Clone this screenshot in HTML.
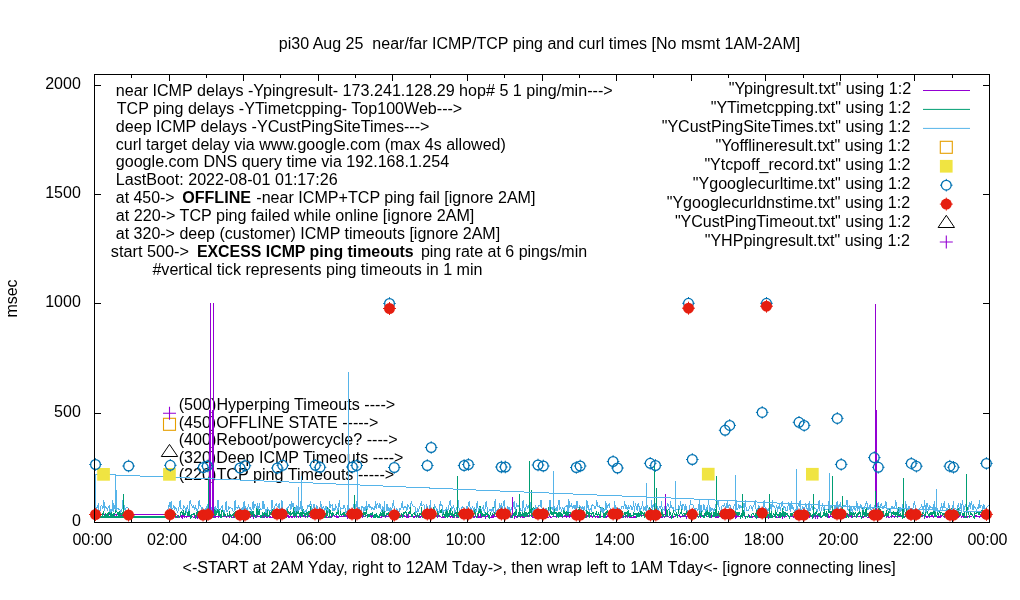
<!DOCTYPE html><html><head><meta charset="utf-8"><style>html,body{margin:0;padding:0;background:#fff;width:1020px;height:600px;overflow:hidden}</style></head><body><svg width="1020" height="600" viewBox="0 0 1020 600" style="display:block;will-change:transform"><defs><clipPath id="cp"><rect x="95" y="75" width="894" height="447"/></clipPath></defs><rect width="1020" height="600" fill="#fff"/><text x="278.80" y="48.80" font-family="Liberation Sans" font-size="16" textLength="521.40" lengthAdjust="spacingAndGlyphs">pi30 Aug 25 &#160;near/far ICMP/TCP ping and curl times [No msmt 1AM-2AM]</text><text x="182.50" y="572.60" font-family="Liberation Sans" font-size="16" textLength="713.25" lengthAdjust="spacingAndGlyphs">&lt;-START at 2AM Yday, right to 12AM Tday-&gt;, then wrap left to 1AM Tday&lt;- [ignore connecting lines]</text><text x="115.79" y="96.00" font-family="Liberation Sans" font-size="16" textLength="496.89" lengthAdjust="spacingAndGlyphs">near ICMP delays -Ypingresult- 173.241.128.29 hop# 5 1 ping/min---&gt;</text><text x="116.80" y="113.87" font-family="Liberation Sans" font-size="16" textLength="345.42" lengthAdjust="spacingAndGlyphs">TCP ping delays -YTimetcpping- Top100Web---&gt;</text><text x="115.79" y="131.74" font-family="Liberation Sans" font-size="16" textLength="313.68" lengthAdjust="spacingAndGlyphs">deep ICMP delays -YCustPingSiteTimes---&gt;</text><text x="115.80" y="149.61" font-family="Liberation Sans" font-size="16" textLength="390.00" lengthAdjust="spacingAndGlyphs">curl target delay via www.google.com (max 4s allowed)</text><text x="115.80" y="167.48" font-family="Liberation Sans" font-size="16" textLength="333.36" lengthAdjust="spacingAndGlyphs">google.com DNS query time via 192.168.1.254</text><text x="115.79" y="185.35" font-family="Liberation Sans" font-size="16" textLength="221.83" lengthAdjust="spacingAndGlyphs">LastBoot: 2022-08-01 01:17:26</text><text x="115.81" y="203.22" font-family="Liberation Sans" font-size="16" textLength="58.75" lengthAdjust="spacingAndGlyphs">at 450-&gt;</text><text x="182.19" y="203.22" font-family="Liberation Sans" font-size="16" textLength="68.85" lengthAdjust="spacingAndGlyphs"><tspan font-weight="bold">OFFLINE</tspan></text><text x="256.29" y="203.22" font-family="Liberation Sans" font-size="16" textLength="279.22" lengthAdjust="spacingAndGlyphs">-near ICMP+TCP ping fail [ignore 2AM]</text><text x="115.79" y="221.09" font-family="Liberation Sans" font-size="16" textLength="358.54" lengthAdjust="spacingAndGlyphs">at 220-&gt; TCP ping failed while online [ignore 2AM]</text><text x="115.80" y="238.96" font-family="Liberation Sans" font-size="16" textLength="384.33" lengthAdjust="spacingAndGlyphs">at 320-&gt; deep (customer) ICMP timeouts [ignore 2AM]</text><text x="110.78" y="256.83" font-family="Liberation Sans" font-size="16" textLength="78.27" lengthAdjust="spacingAndGlyphs">start 500-&gt;</text><text x="196.91" y="256.83" font-family="Liberation Sans" font-size="16" textLength="216.80" lengthAdjust="spacingAndGlyphs"><tspan font-weight="bold">EXCESS ICMP ping timeouts</tspan></text><text x="420.90" y="256.83" font-family="Liberation Sans" font-size="16" textLength="166.23" lengthAdjust="spacingAndGlyphs">ping rate at 6 pings/min</text><text x="152.40" y="274.70" font-family="Liberation Sans" font-size="16" textLength="330.15" lengthAdjust="spacingAndGlyphs">#vertical tick represents ping timeouts in 1 min</text><text x="728.69" y="94.00" font-family="Liberation Sans" font-size="16" textLength="182.55" lengthAdjust="spacingAndGlyphs">"Ypingresult.txt" using 1:2</text><text x="710.70" y="112.97" font-family="Liberation Sans" font-size="16" textLength="199.92" lengthAdjust="spacingAndGlyphs">"YTimetcpping.txt" using 1:2</text><text x="661.70" y="131.94" font-family="Liberation Sans" font-size="16" textLength="248.81" lengthAdjust="spacingAndGlyphs">"YCustPingSiteTimes.txt" using 1:2</text><text x="715.59" y="150.91" font-family="Liberation Sans" font-size="16" textLength="194.73" lengthAdjust="spacingAndGlyphs">"Yofflineresult.txt" using 1:2</text><text x="704.40" y="169.88" font-family="Liberation Sans" font-size="16" textLength="205.94" lengthAdjust="spacingAndGlyphs">"Ytcpoff_record.txt" using 1:2</text><text x="692.80" y="188.85" font-family="Liberation Sans" font-size="16" textLength="217.52" lengthAdjust="spacingAndGlyphs">"Ygooglecurltime.txt" using 1:2</text><text x="666.70" y="207.82" font-family="Liberation Sans" font-size="16" textLength="243.41" lengthAdjust="spacingAndGlyphs">"Ygooglecurldnstime.txt" using 1:2</text><text x="674.90" y="226.79" font-family="Liberation Sans" font-size="16" textLength="235.48" lengthAdjust="spacingAndGlyphs">"YCustPingTimeout.txt" using 1:2</text><text x="704.70" y="245.76" font-family="Liberation Sans" font-size="16" textLength="205.16" lengthAdjust="spacingAndGlyphs">"YHPpingresult.txt" using 1:2</text><text x="178.74" y="410.40" font-family="Liberation Sans" font-size="16" textLength="216.51" lengthAdjust="spacingAndGlyphs">(500)Hyperping Timeouts ----&gt;</text><text x="178.75" y="427.84" font-family="Liberation Sans" font-size="16" textLength="199.54" lengthAdjust="spacingAndGlyphs">(450)OFFLINE STATE -----&gt;</text><text x="178.74" y="445.28" font-family="Liberation Sans" font-size="16" textLength="218.88" lengthAdjust="spacingAndGlyphs">(400)Reboot/powercycle? ----&gt;</text><text x="178.75" y="462.72" font-family="Liberation Sans" font-size="16" textLength="224.67" lengthAdjust="spacingAndGlyphs">(320)Deep ICMP Timeouts ----&gt;</text><text x="178.74" y="480.16" font-family="Liberation Sans" font-size="16" textLength="215.51" lengthAdjust="spacingAndGlyphs">(220)TCP ping Timeouts -----&gt;</text><g clip-path="url(#cp)" shape-rendering="crispEdges"><polyline fill="none" stroke="#9400d3" stroke-width="1.0" points="95.5,515.5 96.1,516.5 96.7,517.5 97.4,516.5 98.0,516.5 98.6,516.5 99.2,515.5 99.8,516.5 100.5,516.5 101.1,516.5 101.7,516.5 102.3,517.5 102.9,517.5 103.6,516.5 104.2,516.5 104.8,516.5 105.4,517.5 106.0,516.5 106.7,516.5 107.3,516.5 107.9,516.5 108.5,517.5 109.1,516.5 109.8,516.5 110.4,516.5 111.0,516.5 111.6,515.5 112.2,517.5 112.9,516.5 113.5,516.5 114.1,515.5 114.7,516.5 115.3,516.5 116.0,516.5 116.6,515.5 117.2,516.5 117.8,516.5 118.4,516.5 119.1,516.5 119.7,517.5 120.3,517.5 120.9,515.5 121.5,517.5 122.2,517.5 122.8,515.5 123.4,515.5 124.0,516.5 124.6,516.5 125.3,516.5 125.9,516.5 126.5,515.5 127.1,517.5 127.7,515.5 128.4,517.5 129.0,515.5"/><polyline fill="none" stroke="#9400d3" stroke-width="1.0" points="167.5,516.5 168.1,516.5 168.7,517.5 169.4,516.5 170.0,515.5 170.6,516.5 171.2,517.5 171.8,517.5 172.5,516.5 173.1,516.5 173.7,515.5 174.3,515.5 174.9,515.5 175.6,517.5 176.2,517.5 176.8,516.5 177.4,516.5 178.0,515.5 178.7,517.5 179.3,516.5 179.9,516.5 180.5,515.5 181.1,517.5 181.8,515.5 182.4,517.5 183.0,515.5 183.6,516.5 184.2,517.5 184.9,515.5 185.5,516.5 186.1,516.5 186.7,517.5 187.3,516.5 188.0,516.5 188.6,515.5 189.2,516.5 189.8,516.5 190.4,517.5 191.1,517.5 191.7,517.5 192.3,516.5 192.9,516.5 193.5,517.5 194.2,517.5 194.8,515.5 195.4,516.5 196.0,517.5 196.6,515.5 197.3,517.5 197.9,515.5 198.5,517.5 199.1,516.5 199.7,516.5 200.4,516.5 201.0,516.5 201.6,516.5 202.2,516.5 202.8,516.5 203.5,516.5 204.1,517.5 204.7,516.5 205.3,515.5 205.9,515.5 206.6,516.5 207.2,516.5 207.8,517.5 208.4,515.5 209.0,515.5 209.7,516.5 210.3,516.5 210.9,517.5 211.5,517.5 212.1,517.5 212.8,517.5 213.4,517.5 214.0,516.5 214.6,517.5 215.2,517.5 215.9,516.5 216.5,516.5 217.1,516.5 217.7,516.5 218.3,517.5 219.0,516.5 219.6,516.5 220.2,515.5 220.8,516.5 221.4,516.5 222.1,516.5 222.7,516.5 223.3,516.5 223.9,515.5 224.5,516.5 225.2,516.5 225.8,516.5 226.4,517.5 227.0,516.5 227.6,515.5 228.3,515.5 228.9,515.5 229.5,517.5 230.1,516.5 230.7,516.5 231.4,517.5 232.0,517.5 232.6,517.5 233.2,517.5 233.8,515.5 234.5,516.5 235.1,516.5 235.7,516.5 236.3,515.5 236.9,515.5 237.6,517.5 238.2,516.5 238.8,516.5 239.4,516.5 240.0,515.5 240.7,516.5 241.3,516.5 241.9,515.5 242.5,516.5 243.1,515.5 243.8,515.5 244.4,516.5 245.0,515.5 245.6,516.5 246.2,515.5 246.9,516.5 247.5,516.5 248.1,516.5 248.7,517.5 249.3,516.5 250.0,516.5 250.6,517.5 251.2,515.5 251.8,516.5 252.4,516.5 253.1,515.5 253.7,517.5 254.3,515.5 254.9,516.5 255.5,515.5 256.2,517.5 256.8,515.5 257.4,515.5 258.0,516.5 258.6,516.5 259.3,516.5 259.9,516.5 260.5,517.5 261.1,516.5 261.7,515.5 262.4,516.5 263.0,517.5 263.6,516.5 264.2,517.5 264.8,515.5 265.5,516.5 266.1,516.5 266.7,517.5 267.3,516.5 267.9,517.5 268.6,516.5 269.2,517.5 269.8,515.5 270.4,516.5 271.0,517.5 271.7,517.5 272.3,517.5 272.9,516.5 273.5,516.5 274.1,516.5 274.8,516.5 275.4,516.5 276.0,516.5 276.6,517.5 277.2,516.5 277.9,517.5 278.5,515.5 279.1,516.5 279.7,516.5 280.3,516.5 281.0,516.5 281.6,516.5 282.2,516.5 282.8,517.5 283.4,516.5 284.1,516.5 284.7,516.5 285.3,515.5 285.9,516.5 286.5,515.5 287.2,516.5 287.8,515.5 288.4,515.5 289.0,517.5 289.6,516.5 290.3,516.5 290.9,515.5 291.5,517.5 292.1,517.5 292.7,516.5 293.4,516.5 294.0,516.5 294.6,517.5 295.2,516.5 295.8,516.5 296.5,516.5 297.1,516.5 297.7,516.5 298.3,517.5 298.9,516.5 299.6,516.5 300.2,515.5 300.8,517.5 301.4,516.5 302.0,516.5 302.7,516.5 303.3,516.5 303.9,515.5 304.5,516.5 305.1,516.5 305.8,517.5 306.4,516.5 307.0,516.5 307.6,517.5 308.2,515.5 308.9,516.5 309.5,515.5 310.1,517.5 310.7,517.5 311.3,516.5 312.0,515.5 312.6,516.5 313.2,517.5 313.8,516.5 314.4,517.5 315.1,516.5 315.7,517.5 316.3,517.5 316.9,515.5 317.5,516.5 318.2,516.5 318.8,517.5 319.4,516.5 320.0,516.5 320.6,515.5 321.3,516.5 321.9,516.5 322.5,515.5 323.1,516.5 323.7,515.5 324.4,516.5 325.0,517.5 325.6,516.5 326.2,516.5 326.8,517.5 327.5,517.5 328.1,516.5 328.7,516.5 329.3,516.5 329.9,517.5 330.6,517.5 331.2,515.5 331.8,517.5 332.4,516.5 333.0,515.5 333.7,515.5 334.3,516.5 334.9,515.5 335.5,516.5 336.1,515.5 336.8,517.5 337.4,517.5 338.0,516.5 338.6,517.5 339.2,515.5 339.9,515.5 340.5,516.5 341.1,516.5 341.7,516.5 342.3,516.5 343.0,516.5 343.6,515.5 344.2,515.5 344.8,516.5 345.4,516.5 346.1,515.5 346.7,516.5 347.3,517.5 347.9,515.5 348.5,517.5 349.2,516.5 349.8,517.5 350.4,515.5 351.0,516.5 351.6,515.5 352.3,516.5 352.9,516.5 353.5,517.5 354.1,516.5 354.7,515.5 355.4,516.5 356.0,516.5 356.6,515.5 357.2,516.5 357.8,516.5 358.5,516.5 359.1,515.5 359.7,516.5 360.3,517.5 360.9,516.5 361.6,515.5 362.2,517.5 362.8,515.5 363.4,516.5 364.0,516.5 364.7,516.5 365.3,516.5 365.9,516.5 366.5,515.5 367.1,516.5 367.8,516.5 368.4,516.5 369.0,515.5 369.6,515.5 370.2,516.5 370.9,515.5 371.5,517.5 372.1,516.5 372.7,515.5 373.3,515.5 374.0,516.5 374.6,515.5 375.2,516.5 375.8,516.5 376.4,516.5 377.1,516.5 377.7,517.5 378.3,516.5 378.9,517.5 379.5,516.5 380.2,517.5 380.8,517.5 381.4,517.5 382.0,515.5 382.6,516.5 383.3,516.5 383.9,515.5 384.5,516.5 385.1,516.5 385.7,517.5 386.4,515.5 387.0,516.5 387.6,516.5 388.2,516.5 388.8,516.5 389.5,515.5 390.1,517.5 390.7,516.5 391.3,516.5 391.9,516.5 392.6,517.5 393.2,515.5 393.8,516.5 394.4,515.5 395.0,516.5 395.7,517.5 396.3,516.5 396.9,516.5 397.5,515.5 398.1,517.5 398.8,516.5 399.4,515.5 400.0,515.5 400.6,515.5 401.2,515.5 401.9,516.5 402.5,516.5 403.1,515.5 403.7,516.5 404.3,515.5 405.0,516.5 405.6,516.5 406.2,515.5 406.8,517.5 407.4,516.5 408.1,517.5 408.7,515.5 409.3,516.5 409.9,516.5 410.5,516.5 411.2,516.5 411.8,515.5 412.4,516.5 413.0,516.5 413.6,517.5 414.3,516.5 414.9,517.5 415.5,516.5 416.1,515.5 416.7,515.5 417.4,516.5 418.0,516.5 418.6,516.5 419.2,517.5 419.8,515.5 420.5,517.5 421.1,516.5 421.7,515.5 422.3,516.5 422.9,516.5 423.6,517.5 424.2,516.5 424.8,516.5 425.4,516.5 426.0,516.5 426.7,516.5 427.3,516.5 427.9,516.5 428.5,515.5 429.1,516.5 429.8,517.5 430.4,517.5 431.0,516.5 431.6,516.5 432.2,516.5 432.9,517.5 433.5,515.5 434.1,516.5 434.7,517.5 435.3,516.5 436.0,516.5 436.6,516.5 437.2,517.5 437.8,515.5 438.4,516.5 439.1,515.5 439.7,516.5 440.3,516.5 440.9,516.5 441.5,517.5 442.2,517.5 442.8,517.5 443.4,516.5 444.0,517.5 444.6,515.5 445.3,516.5 445.9,516.5 446.5,516.5 447.1,516.5 447.7,515.5 448.4,515.5 449.0,515.5 449.6,516.5 450.2,516.5 450.8,517.5 451.5,516.5 452.1,517.5 452.7,515.5 453.3,516.5 453.9,516.5 454.6,517.5 455.2,515.5 455.8,515.5 456.4,517.5 457.0,517.5 457.7,517.5 458.3,516.5 458.9,516.5 459.5,515.5 460.1,516.5 460.8,517.5 461.4,516.5 462.0,515.5 462.6,517.5 463.2,516.5 463.9,517.5 464.5,515.5 465.1,517.5 465.7,516.5 466.3,516.5 467.0,516.5 467.6,516.5 468.2,516.5 468.8,515.5 469.4,515.5 470.1,516.5 470.7,515.5 471.3,516.5 471.9,515.5 472.5,516.5 473.2,517.5 473.8,517.5 474.4,517.5 475.0,516.5 475.6,516.5 476.3,516.5 476.9,517.5 477.5,517.5 478.1,517.5 478.7,515.5 479.4,516.5 480.0,517.5 480.6,515.5 481.2,517.5 481.8,515.5 482.5,516.5 483.1,515.5 483.7,516.5 484.3,515.5 484.9,515.5 485.6,517.5 486.2,516.5 486.8,516.5 487.4,516.5 488.0,515.5 488.7,515.5 489.3,515.5 489.9,516.5 490.5,517.5 491.1,517.5 491.8,516.5 492.4,515.5 493.0,517.5 493.6,515.5 494.2,516.5 494.9,515.5 495.5,516.5 496.1,516.5 496.7,515.5 497.3,516.5 498.0,516.5 498.6,515.5 499.2,517.5 499.8,515.5 500.4,516.5 501.1,515.5 501.7,517.5 502.3,516.5 502.9,517.5 503.5,516.5 504.2,516.5 504.8,516.5 505.4,517.5 506.0,517.5 506.6,516.5 507.3,515.5 507.9,517.5 508.5,516.5 509.1,516.5 509.7,516.5 510.4,517.5 511.0,517.5 511.6,515.5 512.2,515.5 512.8,515.5 513.5,515.5 514.1,515.5 514.7,517.5 515.3,516.5 515.9,515.5 516.6,517.5 517.2,517.5 517.8,516.5 518.4,516.5 519.0,516.5 519.7,516.5 520.3,516.5 520.9,517.5 521.5,516.5 522.1,517.5 522.8,515.5 523.4,517.5 524.0,517.5 524.6,516.5 525.2,516.5 525.9,516.5 526.5,516.5 527.1,516.5 527.7,515.5 528.3,516.5 529.0,515.5 529.6,516.5 530.2,515.5 530.8,515.5 531.4,516.5 532.1,516.5 532.7,517.5 533.3,517.5 533.9,517.5 534.5,516.5 535.2,517.5 535.8,515.5 536.4,515.5 537.0,516.5 537.6,517.5 538.3,515.5 538.9,515.5 539.5,516.5 540.1,516.5 540.7,516.5 541.4,515.5 542.0,516.5 542.6,517.5 543.2,517.5 543.8,517.5 544.5,517.5 545.1,515.5 545.7,516.5 546.3,516.5 546.9,516.5 547.6,517.5 548.2,517.5 548.8,517.5 549.4,516.5 550.0,516.5 550.7,517.5 551.3,517.5 551.9,517.5 552.5,516.5 553.1,516.5 553.8,516.5 554.4,516.5 555.0,516.5 555.6,516.5 556.2,517.5 556.9,516.5 557.5,516.5 558.1,516.5 558.7,516.5 559.3,516.5 560.0,516.5 560.6,515.5 561.2,516.5 561.8,515.5 562.4,517.5 563.1,516.5 563.7,516.5 564.3,516.5 564.9,515.5 565.5,516.5 566.2,517.5 566.8,515.5 567.4,516.5 568.0,516.5 568.6,516.5 569.3,515.5 569.9,517.5 570.5,515.5 571.1,515.5 571.7,516.5 572.4,517.5 573.0,516.5 573.6,516.5 574.2,516.5 574.8,517.5 575.5,515.5 576.1,516.5 576.7,516.5 577.3,516.5 577.9,517.5 578.6,517.5 579.2,516.5 579.8,515.5 580.4,516.5 581.0,517.5 581.7,515.5 582.3,516.5 582.9,517.5 583.5,516.5 584.1,515.5 584.8,517.5 585.4,515.5 586.0,517.5 586.6,516.5 587.2,516.5 587.9,515.5 588.5,516.5 589.1,516.5 589.7,517.5 590.3,516.5 591.0,515.5 591.6,516.5 592.2,516.5 592.8,517.5 593.4,516.5 594.1,515.5 594.7,515.5 595.3,516.5 595.9,517.5 596.5,516.5 597.2,516.5 597.8,517.5 598.4,517.5 599.0,516.5 599.6,516.5 600.3,517.5 600.9,516.5 601.5,516.5 602.1,516.5 602.7,516.5 603.4,517.5 604.0,516.5 604.6,516.5 605.2,516.5 605.8,517.5 606.5,517.5 607.1,515.5 607.7,516.5 608.3,516.5 608.9,516.5 609.6,515.5 610.2,516.5 610.8,516.5 611.4,517.5 612.0,516.5 612.7,515.5 613.3,517.5 613.9,515.5 614.5,515.5 615.1,517.5 615.8,516.5 616.4,516.5 617.0,516.5 617.6,516.5 618.2,515.5 618.9,516.5 619.5,515.5 620.1,517.5 620.7,516.5 621.3,516.5 622.0,517.5 622.6,515.5 623.2,515.5 623.8,517.5 624.4,516.5 625.1,516.5 625.7,517.5 626.3,516.5 626.9,515.5 627.5,517.5 628.2,516.5 628.8,515.5 629.4,515.5 630.0,517.5 630.6,516.5 631.3,517.5 631.9,516.5 632.5,517.5 633.1,516.5 633.7,517.5 634.4,516.5 635.0,517.5 635.6,516.5 636.2,516.5 636.8,515.5 637.5,516.5 638.1,516.5 638.7,515.5 639.3,515.5 639.9,515.5 640.6,515.5 641.2,516.5 641.8,515.5 642.4,515.5 643.0,515.5 643.7,515.5 644.3,516.5 644.9,516.5 645.5,516.5 646.1,516.5 646.8,516.5 647.4,517.5 648.0,517.5 648.6,517.5 649.2,515.5 649.9,517.5 650.5,517.5 651.1,516.5 651.7,517.5 652.3,516.5 653.0,516.5 653.6,515.5 654.2,516.5 654.8,516.5 655.4,515.5 656.1,515.5 656.7,517.5 657.3,515.5 657.9,516.5 658.5,516.5 659.2,517.5 659.8,516.5 660.4,516.5 661.0,517.5 661.6,516.5 662.3,516.5 662.9,517.5 663.5,515.5 664.1,516.5 664.7,517.5 665.4,516.5 666.0,516.5 666.6,515.5 667.2,516.5 667.8,516.5 668.5,516.5 669.1,517.5 669.7,517.5 670.3,517.5 670.9,516.5 671.6,516.5 672.2,516.5 672.8,517.5 673.4,517.5 674.0,516.5 674.7,516.5 675.3,515.5 675.9,515.5 676.5,515.5 677.1,515.5 677.8,515.5 678.4,515.5 679.0,515.5 679.6,516.5 680.2,517.5 680.9,516.5 681.5,516.5 682.1,516.5 682.7,516.5 683.3,516.5 684.0,515.5 684.6,516.5 685.2,515.5 685.8,516.5 686.4,517.5 687.1,515.5 687.7,516.5 688.3,516.5 688.9,516.5 689.5,517.5 690.2,516.5 690.8,516.5 691.4,516.5 692.0,517.5 692.6,516.5 693.3,517.5 693.9,515.5 694.5,516.5 695.1,515.5 695.7,516.5 696.4,516.5 697.0,516.5 697.6,516.5 698.2,516.5 698.8,516.5 699.5,515.5 700.1,516.5 700.7,517.5 701.3,515.5 701.9,516.5 702.6,516.5 703.2,515.5 703.8,516.5 704.4,516.5 705.0,515.5 705.7,515.5 706.3,516.5 706.9,516.5 707.5,516.5 708.1,515.5 708.8,516.5 709.4,516.5 710.0,516.5 710.6,515.5 711.2,517.5 711.9,515.5 712.5,516.5 713.1,515.5 713.7,516.5 714.3,516.5 715.0,516.5 715.6,517.5 716.2,517.5 716.8,516.5 717.4,517.5 718.1,516.5 718.7,517.5 719.3,516.5 719.9,516.5 720.5,516.5 721.2,517.5 721.8,515.5 722.4,517.5 723.0,515.5 723.6,515.5 724.3,517.5 724.9,516.5 725.5,515.5 726.1,515.5 726.7,517.5 727.4,517.5 728.0,516.5 728.6,515.5 729.2,516.5 729.8,517.5 730.5,517.5 731.1,516.5 731.7,516.5 732.3,517.5 732.9,516.5 733.6,517.5 734.2,516.5 734.8,516.5 735.4,517.5 736.0,515.5 736.7,517.5 737.3,516.5 737.9,516.5 738.5,516.5 739.1,516.5 739.8,516.5 740.4,517.5 741.0,516.5 741.6,515.5 742.2,516.5 742.9,516.5 743.5,515.5 744.1,515.5 744.7,516.5 745.3,516.5 746.0,516.5 746.6,516.5 747.2,517.5 747.8,517.5 748.4,516.5 749.1,515.5 749.7,516.5 750.3,516.5 750.9,517.5 751.5,515.5 752.2,516.5 752.8,517.5 753.4,516.5 754.0,516.5 754.6,516.5 755.3,517.5 755.9,516.5 756.5,517.5 757.1,516.5 757.7,516.5 758.4,516.5 759.0,517.5 759.6,516.5 760.2,517.5 760.8,515.5 761.5,516.5 762.1,516.5 762.7,516.5 763.3,516.5 763.9,516.5 764.6,516.5 765.2,515.5 765.8,516.5 766.4,517.5 767.0,517.5 767.7,515.5 768.3,517.5 768.9,515.5 769.5,516.5 770.1,517.5 770.8,517.5 771.4,515.5 772.0,517.5 772.6,517.5 773.2,516.5 773.9,516.5 774.5,516.5 775.1,517.5 775.7,517.5 776.3,516.5 777.0,517.5 777.6,517.5 778.2,516.5 778.8,517.5 779.4,517.5 780.1,516.5 780.7,516.5 781.3,516.5 781.9,515.5 782.5,517.5 783.2,515.5 783.8,516.5 784.4,517.5 785.0,516.5 785.6,516.5 786.3,516.5 786.9,516.5 787.5,515.5 788.1,516.5 788.7,516.5 789.4,517.5 790.0,516.5 790.6,516.5 791.2,516.5 791.8,516.5 792.5,516.5 793.1,516.5 793.7,517.5 794.3,515.5 794.9,516.5 795.6,516.5 796.2,516.5 796.8,515.5 797.4,515.5 798.0,516.5 798.7,515.5 799.3,515.5 799.9,517.5 800.5,516.5 801.1,515.5 801.8,517.5 802.4,516.5 803.0,515.5 803.6,516.5 804.2,515.5 804.9,515.5 805.5,516.5 806.1,516.5 806.7,516.5 807.3,517.5 808.0,516.5 808.6,515.5 809.2,515.5 809.8,517.5 810.4,516.5 811.1,515.5 811.7,516.5 812.3,516.5 812.9,515.5 813.5,517.5 814.2,516.5 814.8,515.5 815.4,517.5 816.0,515.5 816.6,515.5 817.3,517.5 817.9,515.5 818.5,516.5 819.1,515.5 819.7,515.5 820.4,516.5 821.0,517.5 821.6,516.5 822.2,516.5 822.8,516.5 823.5,515.5 824.1,515.5 824.7,515.5 825.3,515.5 825.9,516.5 826.6,516.5 827.2,516.5 827.8,516.5 828.4,515.5 829.0,517.5 829.7,517.5 830.3,515.5 830.9,516.5 831.5,516.5 832.1,517.5 832.8,516.5 833.4,516.5 834.0,516.5 834.6,516.5 835.2,516.5 835.9,515.5 836.5,515.5 837.1,516.5 837.7,515.5 838.3,516.5 839.0,517.5 839.6,515.5 840.2,516.5 840.8,516.5 841.4,515.5 842.1,517.5 842.7,516.5 843.3,516.5 843.9,516.5 844.5,516.5 845.2,516.5 845.8,517.5 846.4,516.5 847.0,516.5 847.6,516.5 848.3,515.5 848.9,517.5 849.5,515.5 850.1,516.5 850.7,516.5 851.4,515.5 852.0,517.5 852.6,517.5 853.2,516.5 853.8,516.5 854.5,516.5 855.1,516.5 855.7,516.5 856.3,516.5 856.9,517.5 857.6,516.5 858.2,516.5 858.8,516.5 859.4,516.5 860.0,516.5 860.7,516.5 861.3,516.5 861.9,516.5 862.5,517.5 863.1,516.5 863.8,517.5 864.4,516.5 865.0,515.5 865.6,516.5 866.2,515.5 866.9,516.5 867.5,517.5 868.1,516.5 868.7,517.5 869.3,517.5 870.0,517.5 870.6,516.5 871.2,517.5 871.8,516.5 872.4,516.5 873.1,516.5 873.7,515.5 874.3,516.5 874.9,516.5 875.5,516.5 876.2,515.5 876.8,515.5 877.4,516.5 878.0,515.5 878.6,517.5 879.3,515.5 879.9,515.5 880.5,516.5 881.1,516.5 881.7,516.5 882.4,516.5 883.0,515.5 883.6,516.5 884.2,516.5 884.8,516.5 885.5,515.5 886.1,516.5 886.7,517.5 887.3,515.5 887.9,516.5 888.6,517.5 889.2,517.5 889.8,517.5 890.4,516.5 891.0,516.5 891.7,517.5 892.3,516.5 892.9,515.5 893.5,516.5 894.1,517.5 894.8,516.5 895.4,516.5 896.0,516.5 896.6,516.5 897.2,516.5 897.9,516.5 898.5,516.5 899.1,516.5 899.7,515.5 900.3,516.5 901.0,516.5 901.6,516.5 902.2,516.5 902.8,516.5 903.4,516.5 904.1,516.5 904.7,516.5 905.3,516.5 905.9,515.5 906.5,516.5 907.2,516.5 907.8,517.5 908.4,516.5 909.0,516.5 909.6,516.5 910.3,516.5 910.9,516.5 911.5,516.5 912.1,516.5 912.7,516.5 913.4,515.5 914.0,517.5 914.6,516.5 915.2,516.5 915.8,516.5 916.5,516.5 917.1,515.5 917.7,515.5 918.3,515.5 918.9,517.5 919.6,515.5 920.2,516.5 920.8,515.5 921.4,515.5 922.0,515.5 922.7,516.5 923.3,515.5 923.9,515.5 924.5,517.5 925.1,515.5 925.8,516.5 926.4,517.5 927.0,516.5 927.6,517.5 928.2,516.5 928.9,515.5 929.5,517.5 930.1,516.5 930.7,516.5 931.3,516.5 932.0,515.5 932.6,516.5 933.2,517.5 933.8,516.5 934.4,516.5 935.1,515.5 935.7,516.5 936.3,516.5 936.9,515.5 937.5,517.5 938.2,516.5 938.8,517.5 939.4,516.5 940.0,517.5 940.6,515.5 941.3,515.5 941.9,516.5 942.5,515.5 943.1,516.5 943.7,516.5 944.4,517.5 945.0,516.5 945.6,516.5 946.2,516.5 946.8,517.5 947.5,516.5 948.1,515.5 948.7,515.5 949.3,516.5 949.9,517.5 950.6,517.5 951.2,516.5 951.8,517.5 952.4,516.5 953.0,515.5 953.7,516.5 954.3,515.5 954.9,515.5 955.5,517.5 956.1,516.5 956.8,517.5 957.4,516.5 958.0,517.5 958.6,516.5 959.2,516.5 959.9,515.5 960.5,515.5 961.1,516.5 961.7,517.5 962.3,515.5 963.0,516.5 963.6,517.5 964.2,517.5 964.8,515.5 965.4,516.5 966.1,516.5 966.7,515.5 967.3,517.5 967.9,516.5 968.5,516.5 969.2,515.5 969.8,515.5 970.4,516.5 971.0,516.5 971.6,516.5 972.3,515.5 972.9,515.5 973.5,516.5 974.1,516.5 974.7,515.5 975.4,516.5 976.0,515.5 976.6,516.5 977.2,516.5 977.8,516.5 978.5,516.5 979.1,517.5 979.7,516.5 980.3,516.5 980.9,515.5 981.6,515.5 982.2,517.5 982.8,515.5 983.4,516.5 984.0,516.5 984.7,516.5 985.3,515.5 985.9,516.5 986.5,517.5 987.1,517.5 987.8,516.5 988.4,516.5"/><line x1="100" y1="514.5" x2="168" y2="514.5" stroke="#9400d3" stroke-width="1"/><polyline fill="none" stroke="#009e73" stroke-width="1.0" points="95.5,514.1 96.1,516.0 96.7,515.6 97.4,512.4 98.0,514.1 98.6,517.4 99.2,515.2 99.8,514.2 100.5,516.2 101.1,516.5 101.7,517.0 102.3,515.7 102.9,513.5 103.6,512.1 104.2,516.6 104.8,515.6 105.4,514.3 106.0,515.5 106.7,515.9 107.3,512.7 107.9,516.6 108.5,514.7 109.1,511.7 109.8,512.5 110.4,517.6 111.0,512.2 111.6,515.0 112.2,514.8 112.9,516.9 113.5,514.2 114.1,512.9 114.7,514.1 115.3,512.3 116.0,507.4 116.6,508.1 117.2,514.2 117.8,513.8 118.4,513.0 119.1,517.6 119.7,512.9 120.3,514.0 120.9,512.3 121.5,516.8 122.2,514.5 122.8,513.0 123.4,513.8 124.0,516.8 124.6,514.5 125.3,515.1 125.9,516.9 126.5,517.0 127.1,513.9 127.7,514.3 128.4,511.5 129.0,513.3"/><polyline fill="none" stroke="#009e73" stroke-width="1.0" points="167.5,513.5 168.1,514.3 168.7,515.8 169.4,517.5 170.0,511.9 170.6,517.4 171.2,512.4 171.8,506.1 172.5,517.7 173.1,513.1 173.7,512.4 174.3,516.5 174.9,512.5 175.6,516.6 176.2,517.3 176.8,516.6 177.4,517.3 178.0,517.0 178.7,516.0 179.3,516.3 179.9,517.2 180.5,513.2 181.1,512.4 181.8,511.9 182.4,512.4 183.0,514.7 183.6,510.2 184.2,514.5 184.9,515.8 185.5,513.9 186.1,509.2 186.7,509.0 187.3,515.9 188.0,513.6 188.6,514.8 189.2,509.6 189.8,515.6 190.4,517.1 191.1,514.6 191.7,516.5 192.3,514.3 192.9,515.1 193.5,513.4 194.2,514.1 194.8,513.3 195.4,517.8 196.0,516.6 196.6,513.6 197.3,515.3 197.9,509.6 198.5,517.3 199.1,511.8 199.7,511.5 200.4,517.5 201.0,515.8 201.6,517.4 202.2,515.5 202.8,516.0 203.5,515.9 204.1,515.8 204.7,516.5 205.3,509.9 205.9,517.4 206.6,513.9 207.2,516.6 207.8,513.2 208.4,514.2 209.0,514.3 209.7,508.8 210.3,511.8 210.9,516.8 211.5,517.5 212.1,511.6 212.8,515.3 213.4,517.9 214.0,514.2 214.6,515.7 215.2,506.0 215.9,515.9 216.5,510.3 217.1,509.6 217.7,513.1 218.3,509.9 219.0,516.1 219.6,509.1 220.2,516.1 220.8,517.6 221.4,517.8 222.1,509.3 222.7,507.6 223.3,516.2 223.9,517.1 224.5,511.9 225.2,515.2 225.8,515.9 226.4,516.7 227.0,515.7 227.6,514.2 228.3,516.6 228.9,516.6 229.5,510.9 230.1,516.1 230.7,513.7 231.4,517.9 232.0,515.4 232.6,514.3 233.2,513.9 233.8,515.4 234.5,516.7 235.1,511.5 235.7,514.2 236.3,516.8 236.9,511.8 237.6,516.8 238.2,515.2 238.8,517.0 239.4,516.0 240.0,508.8 240.7,516.7 241.3,516.4 241.9,513.0 242.5,515.9 243.1,512.8 243.8,516.4 244.4,510.0 245.0,516.5 245.6,515.3 246.2,517.3 246.9,514.6 247.5,512.7 248.1,512.7 248.7,513.9 249.3,514.1 250.0,511.0 250.6,513.9 251.2,515.6 251.8,512.5 252.4,513.7 253.1,511.0 253.7,517.1 254.3,515.2 254.9,516.6 255.5,517.7 256.2,516.8 256.8,507.0 257.4,506.3 258.0,515.1 258.6,514.5 259.3,509.0 259.9,514.1 260.5,517.7 261.1,515.2 261.7,517.7 262.4,514.1 263.0,512.5 263.6,517.9 264.2,511.8 264.8,513.8 265.5,517.4 266.1,511.8 266.7,516.1 267.3,506.7 267.9,516.4 268.6,515.9 269.2,515.3 269.8,512.2 270.4,513.2 271.0,514.6 271.7,513.0 272.3,509.6 272.9,510.6 273.5,512.9 274.1,517.1 274.8,512.4 275.4,512.1 276.0,517.0 276.6,514.4 277.2,516.8 277.9,515.6 278.5,509.6 279.1,515.1 279.7,517.2 280.3,514.2 281.0,513.3 281.6,513.7 282.2,514.7 282.8,517.4 283.4,510.5 284.1,515.8 284.7,514.6 285.3,513.2 285.9,513.9 286.5,518.0 287.2,512.1 287.8,509.6 288.4,513.4 289.0,511.6 289.6,513.7 290.3,511.5 290.9,514.9 291.5,514.3 292.1,512.9 292.7,512.4 293.4,516.5 294.0,506.4 294.6,515.5 295.2,513.3 295.8,515.5 296.5,516.8 297.1,509.7 297.7,514.2 298.3,511.9 298.9,513.7 299.6,517.1 300.2,511.6 300.8,514.6 301.4,513.2 302.0,516.9 302.7,512.6 303.3,508.6 303.9,514.4 304.5,512.3 305.1,516.8 305.8,513.6 306.4,514.0 307.0,511.9 307.6,517.7 308.2,514.8 308.9,510.8 309.5,513.0 310.1,512.2 310.7,506.5 311.3,516.0 312.0,511.6 312.6,515.2 313.2,516.1 313.8,517.2 314.4,511.8 315.1,514.7 315.7,513.3 316.3,514.1 316.9,515.3 317.5,512.5 318.2,516.4 318.8,516.9 319.4,514.0 320.0,517.0 320.6,514.1 321.3,516.5 321.9,513.1 322.5,514.3 323.1,516.7 323.7,516.8 324.4,511.8 325.0,517.7 325.6,513.1 326.2,515.6 326.8,508.2 327.5,506.7 328.1,517.8 328.7,517.6 329.3,516.8 329.9,509.2 330.6,513.2 331.2,513.3 331.8,517.5 332.4,513.1 333.0,514.3 333.7,513.4 334.3,515.7 334.9,515.4 335.5,514.8 336.1,514.5 336.8,512.5 337.4,512.4 338.0,514.1 338.6,508.7 339.2,517.0 339.9,515.2 340.5,512.8 341.1,514.5 341.7,515.5 342.3,513.5 343.0,512.9 343.6,514.0 344.2,511.6 344.8,517.1 345.4,515.1 346.1,513.4 346.7,513.4 347.3,510.4 347.9,507.9 348.5,514.4 349.2,512.2 349.8,517.7 350.4,512.5 351.0,513.8 351.6,515.5 352.3,516.8 352.9,516.3 353.5,516.4 354.1,516.6 354.7,517.4 355.4,509.8 356.0,515.3 356.6,517.8 357.2,514.2 357.8,517.2 358.5,514.0 359.1,514.5 359.7,513.4 360.3,515.1 360.9,513.6 361.6,517.0 362.2,514.4 362.8,513.5 363.4,515.2 364.0,512.1 364.7,513.6 365.3,516.9 365.9,512.8 366.5,506.2 367.1,515.2 367.8,517.5 368.4,515.0 369.0,514.9 369.6,516.0 370.2,513.8 370.9,513.8 371.5,515.9 372.1,512.1 372.7,514.1 373.3,515.2 374.0,517.8 374.6,514.4 375.2,518.0 375.8,514.9 376.4,512.6 377.1,517.9 377.7,514.8 378.3,517.3 378.9,516.8 379.5,517.3 380.2,512.5 380.8,514.8 381.4,512.7 382.0,515.6 382.6,513.8 383.3,508.1 383.9,516.6 384.5,507.5 385.1,517.0 385.7,515.8 386.4,514.7 387.0,513.2 387.6,515.0 388.2,515.2 388.8,512.3 389.5,516.4 390.1,512.2 390.7,514.9 391.3,515.5 391.9,509.9 392.6,513.6 393.2,513.8 393.8,510.5 394.4,515.3 395.0,514.4 395.7,511.9 396.3,515.3 396.9,514.4 397.5,510.7 398.1,517.1 398.8,517.3 399.4,513.5 400.0,517.7 400.6,517.7 401.2,514.0 401.9,512.9 402.5,517.2 403.1,516.7 403.7,512.6 404.3,512.7 405.0,513.4 405.6,512.2 406.2,514.0 406.8,511.9 407.4,516.9 408.1,513.1 408.7,513.3 409.3,511.7 409.9,513.7 410.5,507.3 411.2,516.9 411.8,514.4 412.4,516.7 413.0,513.8 413.6,513.9 414.3,512.9 414.9,514.8 415.5,514.4 416.1,516.1 416.7,517.3 417.4,513.9 418.0,515.5 418.6,517.2 419.2,514.8 419.8,513.3 420.5,514.0 421.1,515.2 421.7,506.9 422.3,517.0 422.9,515.8 423.6,515.2 424.2,514.8 424.8,511.9 425.4,513.0 426.0,516.2 426.7,514.1 427.3,516.5 427.9,517.1 428.5,509.4 429.1,515.8 429.8,514.2 430.4,516.0 431.0,517.0 431.6,515.6 432.2,512.2 432.9,516.3 433.5,506.8 434.1,512.8 434.7,507.6 435.3,515.6 436.0,517.0 436.6,516.2 437.2,514.3 437.8,510.2 438.4,516.5 439.1,511.8 439.7,507.2 440.3,512.2 440.9,512.9 441.5,509.5 442.2,514.1 442.8,516.9 443.4,512.1 444.0,514.3 444.6,516.0 445.3,516.9 445.9,509.5 446.5,514.3 447.1,517.5 447.7,509.5 448.4,516.7 449.0,515.1 449.6,515.6 450.2,507.8 450.8,514.2 451.5,513.5 452.1,516.1 452.7,513.0 453.3,514.8 453.9,517.6 454.6,513.4 455.2,512.4 455.8,513.7 456.4,515.1 457.0,512.6 457.7,515.4 458.3,516.5 458.9,512.2 459.5,513.8 460.1,511.9 460.8,512.8 461.4,514.4 462.0,513.6 462.6,513.9 463.2,511.0 463.9,509.6 464.5,517.9 465.1,512.2 465.7,514.3 466.3,510.6 467.0,515.7 467.6,517.6 468.2,513.1 468.8,509.9 469.4,517.0 470.1,512.7 470.7,517.0 471.3,512.6 471.9,516.9 472.5,513.6 473.2,516.9 473.8,513.9 474.4,513.9 475.0,508.8 475.6,515.6 476.3,516.1 476.9,517.6 477.5,514.7 478.1,513.4 478.7,512.0 479.4,512.6 480.0,506.2 480.6,514.4 481.2,510.2 481.8,517.1 482.5,514.3 483.1,515.8 483.7,514.2 484.3,514.4 484.9,516.9 485.6,512.6 486.2,514.4 486.8,513.8 487.4,512.1 488.0,514.5 488.7,517.4 489.3,517.8 489.9,515.5 490.5,511.9 491.1,515.5 491.8,515.2 492.4,514.6 493.0,513.4 493.6,506.9 494.2,515.9 494.9,512.1 495.5,513.9 496.1,514.2 496.7,515.2 497.3,512.2 498.0,517.3 498.6,512.2 499.2,508.7 499.8,513.1 500.4,515.1 501.1,515.2 501.7,514.8 502.3,512.0 502.9,512.0 503.5,517.1 504.2,516.1 504.8,512.2 505.4,516.2 506.0,516.9 506.6,512.6 507.3,515.2 507.9,512.4 508.5,511.9 509.1,509.0 509.7,512.9 510.4,516.1 511.0,517.3 511.6,517.2 512.2,517.5 512.8,512.6 513.5,513.7 514.1,515.9 514.7,512.3 515.3,516.3 515.9,509.0 516.6,512.1 517.2,516.7 517.8,517.5 518.4,513.2 519.0,514.4 519.7,515.3 520.3,511.6 520.9,516.7 521.5,515.1 522.1,516.0 522.8,512.4 523.4,515.0 524.0,516.8 524.6,511.6 525.2,512.5 525.9,517.2 526.5,511.7 527.1,516.8 527.7,514.1 528.3,512.5 529.0,514.1 529.6,507.6 530.2,512.9 530.8,506.8 531.4,513.8 532.1,515.3 532.7,508.9 533.3,508.3 533.9,506.7 534.5,515.9 535.2,513.3 535.8,513.2 536.4,514.9 537.0,508.8 537.6,516.5 538.3,516.5 538.9,515.6 539.5,513.3 540.1,517.2 540.7,515.9 541.4,516.5 542.0,514.8 542.6,513.8 543.2,507.7 543.8,513.6 544.5,514.6 545.1,513.1 545.7,513.8 546.3,511.5 546.9,514.4 547.6,515.2 548.2,507.5 548.8,513.5 549.4,515.1 550.0,513.7 550.7,506.9 551.3,515.3 551.9,513.8 552.5,514.3 553.1,511.9 553.8,517.3 554.4,506.8 555.0,513.2 555.6,512.9 556.2,512.8 556.9,517.1 557.5,512.8 558.1,517.8 558.7,512.0 559.3,517.2 560.0,512.4 560.6,515.0 561.2,515.7 561.8,512.9 562.4,516.4 563.1,514.1 563.7,508.1 564.3,511.8 564.9,513.7 565.5,515.4 566.2,510.6 566.8,515.2 567.4,511.9 568.0,516.2 568.6,512.1 569.3,512.4 569.9,512.1 570.5,514.3 571.1,515.3 571.7,515.8 572.4,513.7 573.0,513.2 573.6,516.5 574.2,513.5 574.8,517.9 575.5,513.3 576.1,517.6 576.7,511.6 577.3,515.8 577.9,513.9 578.6,513.0 579.2,506.7 579.8,511.9 580.4,515.1 581.0,517.6 581.7,512.5 582.3,516.3 582.9,509.9 583.5,513.1 584.1,514.7 584.8,513.7 585.4,514.5 586.0,517.4 586.6,509.2 587.2,514.1 587.9,511.9 588.5,514.2 589.1,517.6 589.7,513.0 590.3,513.2 591.0,513.0 591.6,516.4 592.2,513.4 592.8,512.9 593.4,512.5 594.1,517.2 594.7,516.4 595.3,513.3 595.9,514.7 596.5,512.6 597.2,515.4 597.8,515.3 598.4,512.9 599.0,513.8 599.6,517.1 600.3,517.1 600.9,506.6 601.5,510.6 602.1,512.5 602.7,512.1 603.4,507.7 604.0,517.5 604.6,517.2 605.2,511.7 605.8,516.6 606.5,511.7 607.1,513.0 607.7,511.0 608.3,513.6 608.9,512.3 609.6,512.4 610.2,512.7 610.8,512.5 611.4,514.8 612.0,513.8 612.7,517.5 613.3,512.9 613.9,517.2 614.5,513.3 615.1,506.2 615.8,514.8 616.4,515.1 617.0,511.6 617.6,515.7 618.2,515.1 618.9,517.9 619.5,516.2 620.1,513.6 620.7,517.8 621.3,514.0 622.0,512.4 622.6,511.5 623.2,517.5 623.8,515.5 624.4,513.1 625.1,512.3 625.7,516.6 626.3,511.8 626.9,513.6 627.5,515.1 628.2,509.7 628.8,517.0 629.4,515.3 630.0,513.0 630.6,516.3 631.3,516.1 631.9,514.9 632.5,515.9 633.1,515.6 633.7,513.0 634.4,513.2 635.0,514.6 635.6,514.9 636.2,512.9 636.8,517.5 637.5,514.9 638.1,516.8 638.7,512.6 639.3,514.5 639.9,516.9 640.6,507.9 641.2,516.9 641.8,512.3 642.4,513.1 643.0,513.8 643.7,514.9 644.3,512.1 644.9,518.0 645.5,514.4 646.1,516.7 646.8,512.5 647.4,513.9 648.0,513.0 648.6,513.7 649.2,511.6 649.9,506.9 650.5,516.2 651.1,513.6 651.7,509.2 652.3,517.1 653.0,514.3 653.6,515.5 654.2,511.8 654.8,513.9 655.4,513.4 656.1,515.7 656.7,513.8 657.3,515.3 657.9,512.7 658.5,516.1 659.2,515.8 659.8,512.0 660.4,514.0 661.0,514.7 661.6,509.0 662.3,514.5 662.9,517.0 663.5,514.6 664.1,514.4 664.7,514.8 665.4,515.9 666.0,509.4 666.6,515.1 667.2,516.5 667.8,510.1 668.5,509.8 669.1,509.4 669.7,516.1 670.3,511.9 670.9,514.2 671.6,518.0 672.2,517.2 672.8,513.7 673.4,511.5 674.0,513.3 674.7,513.5 675.3,517.1 675.9,514.8 676.5,511.8 677.1,517.1 677.8,517.1 678.4,508.7 679.0,513.9 679.6,514.7 680.2,513.9 680.9,512.8 681.5,507.6 682.1,515.0 682.7,515.2 683.3,513.3 684.0,513.4 684.6,516.7 685.2,514.5 685.8,514.4 686.4,511.9 687.1,510.3 687.7,512.0 688.3,512.7 688.9,515.1 689.5,514.7 690.2,515.9 690.8,512.9 691.4,512.4 692.0,512.8 692.6,512.1 693.3,517.7 693.9,515.8 694.5,517.4 695.1,509.5 695.7,511.8 696.4,513.4 697.0,515.3 697.6,515.1 698.2,517.4 698.8,517.0 699.5,516.7 700.1,507.9 700.7,515.7 701.3,508.3 701.9,516.2 702.6,515.9 703.2,516.9 703.8,517.5 704.4,517.6 705.0,513.4 705.7,516.4 706.3,508.4 706.9,517.1 707.5,506.7 708.1,513.3 708.8,517.0 709.4,509.0 710.0,517.8 710.6,517.6 711.2,511.8 711.9,514.4 712.5,516.3 713.1,516.6 713.7,512.0 714.3,512.1 715.0,516.6 715.6,508.6 716.2,512.1 716.8,512.4 717.4,513.8 718.1,515.8 718.7,512.6 719.3,513.7 719.9,517.2 720.5,510.4 721.2,512.3 721.8,515.0 722.4,514.5 723.0,515.0 723.6,513.9 724.3,514.1 724.9,512.3 725.5,517.2 726.1,510.7 726.7,514.7 727.4,515.2 728.0,513.0 728.6,512.5 729.2,511.7 729.8,514.9 730.5,508.9 731.1,513.0 731.7,516.6 732.3,511.9 732.9,515.4 733.6,511.8 734.2,516.0 734.8,513.7 735.4,514.5 736.0,511.6 736.7,514.2 737.3,512.1 737.9,516.3 738.5,512.5 739.1,512.4 739.8,512.9 740.4,517.8 741.0,516.6 741.6,514.7 742.2,517.4 742.9,515.6 743.5,515.6 744.1,509.6 744.7,513.8 745.3,517.8 746.0,516.3 746.6,516.9 747.2,517.4 747.8,516.9 748.4,515.3 749.1,516.9 749.7,517.2 750.3,517.7 750.9,517.6 751.5,517.8 752.2,513.1 752.8,513.0 753.4,514.5 754.0,514.7 754.6,516.0 755.3,514.0 755.9,516.7 756.5,517.6 757.1,509.3 757.7,516.9 758.4,515.4 759.0,508.4 759.6,511.6 760.2,516.8 760.8,515.4 761.5,513.7 762.1,513.8 762.7,515.5 763.3,512.1 763.9,516.1 764.6,515.8 765.2,512.3 765.8,511.8 766.4,512.7 767.0,517.7 767.7,513.0 768.3,515.5 768.9,514.1 769.5,517.7 770.1,517.9 770.8,516.9 771.4,506.9 772.0,517.6 772.6,516.8 773.2,513.8 773.9,515.1 774.5,514.8 775.1,517.5 775.7,509.1 776.3,514.4 777.0,513.9 777.6,515.6 778.2,514.9 778.8,517.4 779.4,513.9 780.1,511.9 780.7,515.9 781.3,514.4 781.9,517.3 782.5,507.6 783.2,512.4 783.8,517.3 784.4,515.3 785.0,511.8 785.6,516.4 786.3,513.3 786.9,513.4 787.5,514.2 788.1,515.7 788.7,515.9 789.4,517.8 790.0,516.0 790.6,512.6 791.2,516.9 791.8,513.8 792.5,514.9 793.1,512.6 793.7,512.6 794.3,511.8 794.9,514.0 795.6,517.8 796.2,513.5 796.8,512.8 797.4,514.3 798.0,513.2 798.7,514.0 799.3,513.2 799.9,517.4 800.5,516.9 801.1,516.6 801.8,512.5 802.4,514.6 803.0,515.9 803.6,513.3 804.2,517.5 804.9,513.4 805.5,513.2 806.1,511.8 806.7,515.2 807.3,517.6 808.0,508.7 808.6,516.4 809.2,514.2 809.8,512.2 810.4,515.7 811.1,515.6 811.7,516.5 812.3,517.6 812.9,513.7 813.5,516.7 814.2,512.7 814.8,515.0 815.4,515.9 816.0,512.4 816.6,511.9 817.3,514.8 817.9,515.8 818.5,514.1 819.1,513.3 819.7,516.6 820.4,512.5 821.0,516.4 821.6,517.3 822.2,516.3 822.8,515.7 823.5,512.4 824.1,516.1 824.7,509.0 825.3,516.9 825.9,512.9 826.6,512.1 827.2,517.8 827.8,513.8 828.4,512.0 829.0,509.1 829.7,512.4 830.3,511.9 830.9,515.1 831.5,511.8 832.1,512.2 832.8,515.6 833.4,513.7 834.0,512.9 834.6,512.9 835.2,516.8 835.9,511.7 836.5,511.7 837.1,509.2 837.7,516.2 838.3,514.1 839.0,515.3 839.6,517.1 840.2,516.7 840.8,513.6 841.4,512.0 842.1,512.4 842.7,515.9 843.3,514.5 843.9,512.7 844.5,513.3 845.2,516.3 845.8,514.4 846.4,516.1 847.0,513.2 847.6,516.1 848.3,516.4 848.9,517.5 849.5,507.0 850.1,511.6 850.7,516.2 851.4,513.2 852.0,512.6 852.6,517.9 853.2,511.8 853.8,513.8 854.5,516.7 855.1,512.2 855.7,512.5 856.3,514.6 856.9,517.4 857.6,514.6 858.2,512.3 858.8,515.2 859.4,512.9 860.0,511.6 860.7,516.1 861.3,517.9 861.9,516.3 862.5,516.8 863.1,507.1 863.8,515.3 864.4,511.6 865.0,516.6 865.6,511.8 866.2,507.6 866.9,515.6 867.5,514.6 868.1,512.8 868.7,517.4 869.3,512.2 870.0,512.3 870.6,514.5 871.2,515.6 871.8,509.6 872.4,511.8 873.1,514.1 873.7,516.1 874.3,515.7 874.9,514.6 875.5,517.4 876.2,511.9 876.8,517.9 877.4,514.0 878.0,516.9 878.6,506.5 879.3,517.8 879.9,507.2 880.5,517.5 881.1,515.9 881.7,515.7 882.4,513.2 883.0,511.6 883.6,512.2 884.2,516.1 884.8,516.7 885.5,514.8 886.1,516.6 886.7,510.3 887.3,515.1 887.9,514.8 888.6,515.4 889.2,508.7 889.8,513.4 890.4,511.5 891.0,511.7 891.7,516.8 892.3,512.3 892.9,512.8 893.5,512.2 894.1,515.0 894.8,512.1 895.4,517.0 896.0,512.2 896.6,513.5 897.2,512.5 897.9,517.9 898.5,506.6 899.1,516.0 899.7,514.9 900.3,514.1 901.0,515.7 901.6,516.3 902.2,517.4 902.8,509.4 903.4,517.0 904.1,517.2 904.7,517.6 905.3,516.1 905.9,513.5 906.5,508.2 907.2,517.9 907.8,517.6 908.4,516.9 909.0,516.4 909.6,513.1 910.3,511.6 910.9,517.3 911.5,513.6 912.1,516.5 912.7,516.7 913.4,512.2 914.0,513.5 914.6,513.9 915.2,517.8 915.8,515.0 916.5,515.0 917.1,514.1 917.7,516.0 918.3,512.1 918.9,513.4 919.6,511.6 920.2,516.2 920.8,512.6 921.4,516.0 922.0,516.3 922.7,513.1 923.3,511.7 923.9,512.9 924.5,517.8 925.1,515.3 925.8,515.4 926.4,506.3 927.0,511.6 927.6,512.4 928.2,514.7 928.9,516.0 929.5,516.5 930.1,512.2 930.7,514.2 931.3,514.4 932.0,512.1 932.6,513.7 933.2,511.7 933.8,513.0 934.4,516.7 935.1,506.9 935.7,517.4 936.3,515.8 936.9,515.8 937.5,510.9 938.2,514.0 938.8,515.2 939.4,510.3 940.0,512.3 940.6,513.9 941.3,512.4 941.9,513.1 942.5,514.9 943.1,513.1 943.7,513.4 944.4,516.5 945.0,512.8 945.6,514.0 946.2,515.7 946.8,509.3 947.5,516.9 948.1,511.7 948.7,512.3 949.3,506.6 949.9,514.6 950.6,513.0 951.2,507.8 951.8,514.5 952.4,507.1 953.0,516.3 953.7,517.2 954.3,517.1 954.9,517.6 955.5,513.1 956.1,517.1 956.8,512.0 957.4,517.5 958.0,508.3 958.6,513.6 959.2,515.8 959.9,512.3 960.5,514.6 961.1,511.6 961.7,508.4 962.3,516.3 963.0,513.0 963.6,515.4 964.2,512.4 964.8,517.6 965.4,517.1 966.1,517.4 966.7,513.0 967.3,507.1 967.9,511.7 968.5,512.4 969.2,516.4 969.8,517.6 970.4,510.7 971.0,513.0 971.6,514.8 972.3,514.7 972.9,515.5 973.5,516.9 974.1,518.0 974.7,513.0 975.4,513.6 976.0,513.7 976.6,511.6 977.2,512.6 977.8,511.5 978.5,513.2 979.1,515.2 979.7,512.4 980.3,512.3 980.9,512.5 981.6,514.9 982.2,507.2 982.8,512.6 983.4,514.4 984.0,517.3 984.7,517.1 985.3,513.2 985.9,510.6 986.5,507.4 987.1,513.4 987.8,517.2 988.4,514.9"/><line x1="100" y1="517" x2="168" y2="517" stroke="#009e73" stroke-width="2"/><polyline fill="none" stroke="#56b4e9" stroke-width="1.0" points="95.5,506.5 96.4,508.9 97.4,506.8 98.3,504.8 99.2,511.8 100.2,511.1 101.1,505.5 102.0,505.8 102.9,509.3 103.9,500.5 104.5,510.6 105.4,506.4 106.4,507.4 107.3,509.7 108.2,507.1 109.1,505.5 110.1,512.7 111.0,509.5 111.9,511.8 112.9,500.3 113.5,511.8 114.4,506.1 115.3,507.3 116.3,508.8 117.2,508.9 118.1,508.5 119.1,509.5 120.0,510.0 120.9,512.4 121.9,510.5 122.8,500.4 123.4,505.1 124.3,505.5 125.3,511.4 126.2,507.5 127.1,506.9 128.1,507.9 129.0,510.7"/><polyline fill="none" stroke="#56b4e9" stroke-width="1.0" points="167.5,510.9 168.4,507.5 169.4,504.2 170.3,508.1 171.2,500.6 171.8,508.2 172.8,508.6 173.7,505.0 174.6,508.9 175.6,508.0 176.5,508.4 177.4,513.0 178.4,509.2 179.3,506.0 180.2,500.3 180.8,508.2 181.8,508.6 182.7,510.2 183.6,505.8 184.6,507.2 185.5,509.7 186.4,511.3 187.3,505.2 188.3,510.4 189.2,510.5 190.1,500.0 190.8,503.2 191.7,505.6 192.6,507.4 193.5,505.7 194.5,510.3 195.4,505.4 196.3,510.0 197.3,510.2 198.2,508.9 199.1,500.3 199.7,505.1 200.7,505.7 201.6,510.2 202.5,506.8 203.5,511.8 204.4,510.3 205.3,508.6 206.3,510.7 207.2,504.4 208.1,512.7 209.0,500.1 209.7,505.2 210.6,505.3 211.5,509.8 212.5,511.3 213.4,503.9 214.3,508.4 215.2,506.6 216.2,510.5 217.1,507.3 218.0,499.7 218.7,509.7 219.6,510.3 220.5,509.1 221.4,507.1 222.4,506.1 223.3,511.2 224.2,512.4 225.2,509.6 226.1,500.8 226.7,511.4 227.6,511.7 228.6,506.9 229.5,508.2 230.4,507.3 231.4,508.3 232.3,508.3 233.2,511.6 234.2,510.7 235.1,499.8 235.7,508.6 236.6,507.5 237.6,508.6 238.5,506.3 239.4,508.4 240.4,511.4 241.3,508.9 242.2,507.7 243.1,512.2 244.1,501.4 244.7,509.6 245.6,507.2 246.6,508.7 247.5,511.7 248.4,503.7 249.3,508.9 250.3,508.0 251.2,511.0 252.1,508.6 253.1,501.0 253.7,509.5 254.6,504.7 255.5,505.0 256.5,506.8 257.4,504.9 258.3,511.0 259.3,503.5 260.2,509.3 261.1,509.3 262.1,508.8 263.0,501.3 263.6,507.7 264.5,505.7 265.5,512.7 266.4,512.6 267.3,507.4 268.3,510.3 269.2,510.9 270.1,509.9 271.0,510.9 272.0,500.2 272.6,504.8 273.5,511.3 274.5,507.0 275.4,505.1 276.3,504.1 277.2,506.0 278.2,507.3 279.1,503.4 280.0,508.9 281.0,509.1 281.9,499.6 282.5,508.2 283.4,510.6 284.4,509.6 285.3,510.8 286.2,512.0 287.2,507.7 288.1,507.7 289.0,505.9 290.0,504.1 290.9,510.1 291.8,501.2 292.4,506.2 293.4,504.3 294.3,509.3 295.2,511.4 296.2,505.4 297.1,511.6 298.0,506.3 298.9,506.3 299.9,509.8 300.8,501.1 301.4,508.8 302.4,507.4 303.3,511.1 304.2,512.2 305.1,510.5 306.1,511.8 307.0,509.2 307.9,505.6 308.9,506.5 309.8,505.4 310.7,501.4 311.3,507.4 312.3,511.2 313.2,507.3 314.1,503.7 315.1,511.8 316.0,509.8 316.9,504.8 317.9,512.3 318.8,512.3 319.7,510.2 320.6,501.1 321.3,505.8 322.2,509.5 323.1,506.4 324.1,508.0 325.0,510.5 325.9,505.7 326.8,509.8 327.8,510.1 328.7,511.8 329.6,500.7 330.3,507.1 331.2,505.8 332.1,504.9 333.0,511.3 334.0,508.3 334.9,510.8 335.8,505.4 336.8,506.9 337.7,512.0 338.6,505.7 339.6,499.9 340.2,510.2 341.1,508.6 342.0,508.3 343.0,509.1 343.9,505.6 344.8,506.3 345.8,512.2 346.7,512.2 347.6,510.1 348.5,499.8 349.2,510.5 350.1,512.1 351.0,509.5 352.0,510.4 352.9,508.5 353.8,504.1 354.7,511.0 355.7,506.1 356.6,500.8 357.2,509.5 358.2,509.9 359.1,507.2 360.0,511.7 360.9,511.0 361.9,506.8 362.8,506.0 363.7,512.3 364.7,508.6 365.6,511.1 366.5,501.1 367.1,509.7 368.1,506.1 369.0,503.7 369.9,507.8 370.9,506.4 371.8,509.4 372.7,507.4 373.7,509.3 374.6,509.3 375.5,501.3 376.1,509.2 377.1,503.3 378.0,505.1 378.9,508.2 379.9,503.3 380.8,508.2 381.7,510.6 382.6,507.7 383.6,512.3 384.5,501.3 385.1,512.2 386.1,510.6 387.0,503.8 387.9,511.1 388.8,506.8 389.8,511.6 390.7,508.4 391.6,510.5 392.6,505.3 393.5,499.8 394.1,507.0 395.0,512.0 396.0,512.2 396.9,508.9 397.8,511.4 398.8,512.6 399.7,508.6 400.6,509.2 401.6,505.2 402.5,500.6 403.1,509.5 404.0,506.7 405.0,507.6 405.9,506.0 406.8,511.3 407.8,504.8 408.7,505.4 409.6,509.3 410.5,505.0 411.5,501.1 412.1,505.0 413.0,506.2 414.0,506.7 414.9,506.2 415.8,512.9 416.7,512.4 417.7,509.3 418.6,511.2 419.5,507.4 420.5,505.0 421.4,500.9 422.0,505.8 422.9,505.5 423.9,504.0 424.8,511.2 425.7,511.3 426.7,505.4 427.6,506.7 428.5,512.4 429.5,511.3 430.4,499.7 431.0,509.0 431.9,511.0 432.9,510.5 433.8,510.6 434.7,505.3 435.7,507.2 436.6,510.3 437.5,509.3 438.4,512.9 439.4,512.1 440.3,500.6 440.9,506.4 441.9,503.8 442.8,512.2 443.7,510.6 444.6,510.4 445.6,511.5 446.5,507.2 447.4,510.2 448.4,508.9 449.3,503.1 450.2,500.5 450.8,504.8 451.8,509.6 452.7,507.2 453.6,506.0 454.6,511.8 455.5,510.9 456.4,508.7 457.4,506.0 458.3,499.8 458.9,507.4 459.8,511.2 460.8,511.2 461.7,507.9 462.6,506.9 463.6,507.6 464.5,508.3 465.4,512.7 466.3,507.2 467.3,509.6 468.2,504.9 469.1,501.3 469.8,506.7 470.7,508.6 471.6,509.6 472.5,505.8 473.5,509.9 474.4,506.8 475.3,511.1 476.3,511.4 477.2,501.5 477.8,507.9 478.7,509.9 479.7,508.1 480.6,508.4 481.5,510.2 482.5,507.8 483.4,506.1 484.3,512.5 485.3,507.6 486.2,500.8 486.8,505.9 487.7,511.9 488.7,511.6 489.6,509.9 490.5,509.8 491.5,510.9 492.4,507.1 493.3,513.0 494.2,507.1 495.2,499.5 495.8,511.4 496.7,510.0 497.7,509.5 498.6,512.4 499.5,503.0 500.4,508.6 501.4,503.2 502.3,511.9 503.2,504.0 504.2,500.1 504.8,510.4 505.7,510.9 506.6,511.7 507.6,505.8 508.5,509.3 509.4,507.9 510.4,513.0 511.3,507.0 512.2,510.5 513.2,506.1 514.1,501.3 514.7,508.6 515.6,510.1 516.6,503.3 517.5,506.7 518.4,506.2 519.4,505.0 520.3,509.5 521.2,510.6 522.1,510.9 523.1,500.0 523.7,506.2 524.6,510.7 525.6,510.3 526.5,503.9 527.4,507.8 528.3,505.5 529.3,508.3 530.2,508.3 531.1,500.8 531.8,509.8 532.7,511.9 533.6,509.1 534.5,511.2 535.5,506.3 536.4,508.2 537.3,511.0 538.3,505.5 539.2,505.2 540.1,506.0 541.1,499.7 541.7,506.5 542.6,510.3 543.5,510.3 544.5,511.2 545.4,508.8 546.3,508.7 547.3,510.4 548.2,512.0 549.1,510.3 550.0,499.9 550.7,506.3 551.6,508.2 552.5,508.0 553.5,511.6 554.4,506.5 555.3,510.3 556.2,507.4 557.2,511.3 558.1,503.9 559.0,499.8 559.7,510.4 560.6,506.7 561.5,511.6 562.4,507.4 563.4,509.1 564.3,510.0 565.2,506.0 566.2,506.1 567.1,505.8 568.0,512.2 568.9,499.5 569.6,507.6 570.5,505.5 571.4,504.4 572.4,509.3 573.3,505.0 574.2,509.2 575.1,505.0 576.1,511.2 577.0,501.1 577.6,507.9 578.6,507.8 579.5,505.6 580.4,506.4 581.3,509.3 582.3,506.8 583.2,509.0 584.1,506.5 585.1,510.3 586.0,509.9 586.9,500.1 587.5,507.3 588.5,505.7 589.4,512.3 590.3,509.0 591.3,510.5 592.2,504.0 593.1,505.6 594.1,506.1 595.0,509.3 595.9,507.2 596.8,499.9 597.5,507.0 598.4,506.9 599.3,505.8 600.3,509.3 601.2,511.4 602.1,507.0 603.0,512.7 604.0,509.2 604.9,510.8 605.8,501.0 606.5,508.9 607.4,507.1 608.3,504.7 609.2,503.9 610.2,509.1 611.1,511.8 612.0,509.0 613.0,512.8 613.9,511.0 614.8,501.3 615.4,510.7 616.4,508.4 617.3,512.2 618.2,510.1 619.2,508.1 620.1,509.3 621.0,509.3 622.0,506.0 622.9,506.9 623.8,508.1 624.7,500.8 625.4,508.7 626.3,504.8 627.2,510.1 628.2,506.0 629.1,509.1 630.0,506.8 630.9,505.4 631.9,509.1 632.8,509.3 633.7,501.3 634.4,511.9 635.3,503.5 636.2,506.1 637.1,510.8 638.1,503.5 639.0,506.4 639.9,511.6 640.9,508.8 641.8,507.3 642.7,501.2 643.3,510.8 644.3,508.9 645.2,506.3 646.1,511.6 647.1,505.6 648.0,508.3 648.9,509.3 649.9,509.8 650.8,510.5 651.7,500.5 652.3,509.8 653.3,506.1 654.2,503.4 655.1,503.7 656.1,510.2 657.0,505.9 657.9,511.3 658.8,508.4 659.8,506.6 660.7,509.1 661.6,501.2 662.3,511.3 663.2,509.4 664.1,510.3 665.0,506.3 666.0,508.8 666.9,506.4 667.8,503.7 668.8,505.1 669.7,511.4 670.6,500.9 671.2,506.4 672.2,508.6 673.1,507.1 674.0,510.3 675.0,510.1 675.9,509.8 676.8,509.9 677.8,509.7 678.7,505.4 679.6,510.4 680.5,500.6 681.2,506.7 682.1,509.5 683.0,504.1 684.0,506.1 684.9,511.4 685.8,504.3 686.7,510.1 687.7,511.3 688.6,512.6 689.5,511.0 690.5,499.9 691.1,505.0 692.0,503.9 692.9,504.4 693.9,507.6 694.8,511.1 695.7,508.1 696.7,508.2 697.6,510.2 698.5,508.6 699.5,500.1 700.1,512.9 701.0,505.0 701.9,510.8 702.9,511.2 703.8,504.5 704.7,508.3 705.7,512.3 706.6,507.6 707.5,510.4 708.4,500.4 709.1,505.6 710.0,511.9 710.9,507.5 711.9,510.4 712.8,508.8 713.7,511.3 714.6,509.8 715.6,505.1 716.5,507.2 717.4,503.7 718.4,499.9 719.0,507.0 719.9,509.8 720.8,511.2 721.8,506.5 722.7,505.6 723.6,506.1 724.6,503.2 725.5,510.2 726.4,506.1 727.4,500.7 728.0,508.0 728.9,505.8 729.8,504.1 730.8,506.9 731.7,510.7 732.6,511.0 733.6,507.0 734.5,503.9 735.4,507.9 736.3,499.9 737.0,509.8 737.9,508.8 738.8,503.8 739.8,508.6 740.7,505.6 741.6,506.6 742.5,509.8 743.5,503.0 744.4,511.8 745.3,499.6 746.0,506.6 746.9,510.7 747.8,510.5 748.7,510.0 749.7,506.1 750.6,505.2 751.5,507.1 752.5,509.9 753.4,505.3 754.3,504.7 755.3,499.6 755.9,508.9 756.8,509.7 757.7,509.1 758.7,506.1 759.6,507.2 760.5,508.8 761.5,509.2 762.4,510.4 763.3,508.0 764.2,499.9 764.9,506.2 765.8,512.1 766.7,508.3 767.7,512.3 768.6,509.5 769.5,507.5 770.4,505.5 771.4,511.1 772.3,500.3 772.9,506.4 773.9,505.7 774.8,507.6 775.7,509.3 776.6,505.0 777.6,510.2 778.5,507.5 779.4,505.4 780.4,510.5 781.3,505.6 782.2,500.8 782.8,505.1 783.8,509.1 784.7,506.0 785.6,510.3 786.6,510.8 787.5,509.9 788.4,503.2 789.4,505.2 790.3,511.5 791.2,500.9 791.8,509.4 792.8,506.2 793.7,509.8 794.6,511.4 795.6,509.5 796.5,511.4 797.4,510.3 798.3,503.8 799.3,505.8 800.2,499.7 800.8,511.1 801.8,509.5 802.7,505.8 803.6,509.8 804.5,511.3 805.5,503.5 806.4,506.2 807.3,509.6 808.3,512.0 809.2,500.7 809.8,511.2 810.7,509.1 811.7,505.1 812.6,508.4 813.5,505.0 814.5,508.8 815.4,508.3 816.3,509.8 817.3,510.9 818.2,508.9 819.1,500.0 819.7,510.6 820.7,511.3 821.6,510.1 822.5,503.2 823.5,510.4 824.4,507.2 825.3,509.7 826.2,509.5 827.2,510.0 828.1,509.0 829.0,500.8 829.7,504.0 830.6,508.4 831.5,506.5 832.4,506.1 833.4,511.1 834.3,511.4 835.2,505.0 836.2,511.9 837.1,501.1 837.7,511.5 838.6,507.4 839.6,505.2 840.5,503.4 841.4,510.2 842.4,509.6 843.3,505.3 844.2,505.3 845.2,506.9 846.1,505.1 847.0,499.9 847.6,509.5 848.6,510.4 849.5,507.0 850.4,510.0 851.4,505.6 852.3,512.9 853.2,508.0 854.1,507.5 855.1,510.6 856.0,507.8 856.9,501.2 857.6,510.8 858.5,505.9 859.4,510.8 860.3,504.7 861.3,505.5 862.2,510.0 863.1,509.2 864.1,508.5 865.0,505.7 865.9,503.7 866.9,501.2 867.5,509.4 868.4,509.5 869.3,508.0 870.3,503.8 871.2,511.4 872.1,508.9 873.1,508.3 874.0,506.7 874.9,505.7 875.8,500.1 876.5,511.5 877.4,503.2 878.3,503.0 879.3,507.4 880.2,506.6 881.1,503.3 882.0,505.8 883.0,508.7 883.9,506.7 884.8,506.9 885.8,500.7 886.4,504.1 887.3,511.2 888.2,508.4 889.2,510.5 890.1,512.5 891.0,507.8 892.0,506.3 892.9,507.3 893.8,508.4 894.8,507.4 895.7,500.0 896.3,503.3 897.2,509.7 898.2,511.3 899.1,512.2 900.0,506.9 901.0,511.4 901.9,508.3 902.8,505.1 903.7,506.2 904.7,512.1 905.6,501.2 906.2,505.7 907.2,509.7 908.1,510.3 909.0,506.0 909.9,508.0 910.9,509.2 911.8,508.3 912.7,509.5 913.7,504.4 914.6,501.4 915.2,506.7 916.1,509.3 917.1,510.2 918.0,509.9 918.9,509.7 919.9,508.4 920.8,507.4 921.7,505.3 922.7,507.6 923.6,512.6 924.5,499.6 925.1,505.8 926.1,512.7 927.0,503.5 927.9,506.1 928.9,510.7 929.8,506.0 930.7,507.8 931.6,507.7 932.6,508.0 933.5,509.6 934.4,500.6 935.1,512.4 936.0,506.9 936.9,507.1 937.8,511.5 938.8,511.1 939.7,510.8 940.6,510.3 941.6,503.5 942.5,508.8 943.4,506.6 944.4,500.7 945.0,507.9 945.9,507.9 946.8,509.8 947.8,509.2 948.7,503.3 949.6,507.3 950.6,511.5 951.5,509.7 952.4,511.7 953.3,501.2 954.0,507.8 954.9,509.2 955.8,508.5 956.8,510.5 957.7,505.4 958.6,504.0 959.5,510.9 960.5,503.4 961.4,512.7 962.3,500.0 963.0,504.7 963.9,510.7 964.8,506.9 965.7,505.0 966.7,510.9 967.6,512.0 968.5,507.1 969.5,504.1 970.4,508.9 971.3,500.6 971.9,504.8 972.9,510.4 973.8,505.4 974.7,507.3 975.7,508.3 976.6,510.7 977.5,507.4 978.5,508.4 979.4,500.2 980.0,508.3 980.9,505.3 981.9,505.3 982.8,510.3 983.7,503.8 984.7,508.1 985.6,508.8 986.5,507.1 987.4,506.6 988.4,505.4"/><line x1="210.5" y1="303.0" x2="210.5" y2="517.0" stroke="#9400d3" stroke-width="1.0"/><line x1="213.5" y1="303.0" x2="213.5" y2="517.0" stroke="#9400d3" stroke-width="1.0"/><line x1="209.5" y1="410.0" x2="209.5" y2="517.0" stroke="#9400d3" stroke-width="1.0"/><line x1="212.5" y1="410.0" x2="212.5" y2="517.0" stroke="#9400d3" stroke-width="1.0"/><line x1="875.5" y1="303.5" x2="875.5" y2="517.0" stroke="#9400d3" stroke-width="1.2"/><line x1="876.8" y1="410.0" x2="876.8" y2="517.0" stroke="#9400d3" stroke-width="1.2"/><line x1="208.5" y1="477.0" x2="208.5" y2="517.0" stroke="#009e73" stroke-width="1.0"/><line x1="529.5" y1="461.0" x2="529.5" y2="517.0" stroke="#009e73" stroke-width="1.0"/><line x1="531.0" y1="490.0" x2="531.0" y2="517.0" stroke="#009e73" stroke-width="1.0"/><line x1="654.5" y1="464.0" x2="654.5" y2="517.0" stroke="#009e73" stroke-width="1.0"/><line x1="656.0" y1="488.0" x2="656.0" y2="517.0" stroke="#009e73" stroke-width="1.0"/><line x1="457.5" y1="476.0" x2="457.5" y2="517.0" stroke="#009e73" stroke-width="1.0"/><line x1="903.5" y1="478.0" x2="903.5" y2="517.0" stroke="#009e73" stroke-width="1.0"/><line x1="966.5" y1="474.0" x2="966.5" y2="517.0" stroke="#009e73" stroke-width="1.0"/><line x1="115.5" y1="474.0" x2="115.5" y2="510.0" stroke="#56b4e9" stroke-width="1.0"/><line x1="95.5" y1="474.0" x2="95.5" y2="515.0" stroke="#56b4e9" stroke-width="1.0"/><line x1="348.5" y1="372.0" x2="348.5" y2="512.0" stroke="#56b4e9" stroke-width="1.0"/><line x1="357.5" y1="470.0" x2="357.5" y2="512.0" stroke="#56b4e9" stroke-width="1.0"/><line x1="553.0" y1="471.0" x2="553.0" y2="512.0" stroke="#56b4e9" stroke-width="1.0"/><line x1="646.0" y1="483.0" x2="646.0" y2="512.0" stroke="#56b4e9" stroke-width="1.0"/><line x1="675.0" y1="481.0" x2="675.0" y2="512.0" stroke="#56b4e9" stroke-width="1.0"/><line x1="512.0" y1="497.0" x2="512.0" y2="515.0" stroke="#9400d3" stroke-width="1.0"/><line x1="665.0" y1="494.0" x2="665.0" y2="515.0" stroke="#9400d3" stroke-width="1.0"/><line x1="716.5" y1="476.0" x2="716.5" y2="517.0" stroke="#009e73" stroke-width="1.0"/><line x1="742.5" y1="494.0" x2="742.5" y2="517.0" stroke="#009e73" stroke-width="1.0"/><line x1="769.5" y1="494.0" x2="769.5" y2="517.0" stroke="#009e73" stroke-width="1.0"/><line x1="813.5" y1="494.0" x2="813.5" y2="517.0" stroke="#009e73" stroke-width="1.0"/><line x1="832.5" y1="476.0" x2="832.5" y2="517.0" stroke="#009e73" stroke-width="1.0"/><line x1="519.5" y1="494.0" x2="519.5" y2="517.0" stroke="#009e73" stroke-width="1.0"/><line x1="354.5" y1="495.0" x2="354.5" y2="517.0" stroke="#009e73" stroke-width="1.0"/><line x1="123.5" y1="494.0" x2="123.5" y2="517.0" stroke="#009e73" stroke-width="1.0"/><line x1="842.5" y1="496.0" x2="842.5" y2="517.0" stroke="#009e73" stroke-width="1.0"/><line x1="875.5" y1="491.0" x2="875.5" y2="517.0" stroke="#009e73" stroke-width="1.0"/><line x1="735.5" y1="475.0" x2="735.5" y2="511.0" stroke="#56b4e9" stroke-width="1.0"/><line x1="796.5" y1="469.0" x2="796.5" y2="511.0" stroke="#56b4e9" stroke-width="1.0"/><line x1="829.5" y1="473.0" x2="829.5" y2="511.0" stroke="#56b4e9" stroke-width="1.0"/><line x1="301.5" y1="475.6" x2="301.5" y2="511.0" stroke="#56b4e9" stroke-width="1.0"/><line x1="298.5" y1="486.6" x2="298.5" y2="511.0" stroke="#56b4e9" stroke-width="1.0"/><line x1="936.5" y1="489.0" x2="936.5" y2="511.0" stroke="#56b4e9" stroke-width="1.0"/><line x1="116.5" y1="490.0" x2="116.5" y2="511.0" stroke="#56b4e9" stroke-width="1.0"/><polyline fill="none" stroke="#56b4e9" stroke-width="1" points="95.5,474.2 294,482.2 490,490.6 690,498.8 860,507 988,512"/></g><rect x="94.5" y="74.5" width="895" height="448" fill="none" stroke="#000" stroke-width="1"/><path d="M95 522.5 h6 M989 522.5 h-6" stroke="#000" stroke-width="1"/><path d="M95 413.5 h6 M989 413.5 h-6" stroke="#000" stroke-width="1"/><path d="M95 303.5 h6 M989 303.5 h-6" stroke="#000" stroke-width="1"/><path d="M95 194.5 h6 M989 194.5 h-6" stroke="#000" stroke-width="1"/><path d="M95 85.5 h6 M989 85.5 h-6" stroke="#000" stroke-width="1"/><path d="M94.5 522 v-6 M94.5 75 v6" stroke="#000" stroke-width="1"/><path d="M131.5 522 v-3 M131.5 75 v3" stroke="#000" stroke-width="1"/><path d="M169.5 522 v-6 M169.5 75 v6" stroke="#000" stroke-width="1"/><path d="M206.5 522 v-3 M206.5 75 v3" stroke="#000" stroke-width="1"/><path d="M243.5 522 v-6 M243.5 75 v6" stroke="#000" stroke-width="1"/><path d="M280.5 522 v-3 M280.5 75 v3" stroke="#000" stroke-width="1"/><path d="M318.5 522 v-6 M318.5 75 v6" stroke="#000" stroke-width="1"/><path d="M355.5 522 v-3 M355.5 75 v3" stroke="#000" stroke-width="1"/><path d="M392.5 522 v-6 M392.5 75 v6" stroke="#000" stroke-width="1"/><path d="M430.5 522 v-3 M430.5 75 v3" stroke="#000" stroke-width="1"/><path d="M467.5 522 v-6 M467.5 75 v6" stroke="#000" stroke-width="1"/><path d="M504.5 522 v-3 M504.5 75 v3" stroke="#000" stroke-width="1"/><path d="M542.5 522 v-6 M542.5 75 v6" stroke="#000" stroke-width="1"/><path d="M579.5 522 v-3 M579.5 75 v3" stroke="#000" stroke-width="1"/><path d="M616.5 522 v-6 M616.5 75 v6" stroke="#000" stroke-width="1"/><path d="M653.5 522 v-3 M653.5 75 v3" stroke="#000" stroke-width="1"/><path d="M691.5 522 v-6 M691.5 75 v6" stroke="#000" stroke-width="1"/><path d="M728.5 522 v-3 M728.5 75 v3" stroke="#000" stroke-width="1"/><path d="M765.5 522 v-6 M765.5 75 v6" stroke="#000" stroke-width="1"/><path d="M803.5 522 v-3 M803.5 75 v3" stroke="#000" stroke-width="1"/><path d="M840.5 522 v-6 M840.5 75 v6" stroke="#000" stroke-width="1"/><path d="M877.5 522 v-3 M877.5 75 v3" stroke="#000" stroke-width="1"/><path d="M914.5 522 v-6 M914.5 75 v6" stroke="#000" stroke-width="1"/><path d="M952.5 522 v-3 M952.5 75 v3" stroke="#000" stroke-width="1"/><path d="M989.5 522 v-6 M989.5 75 v6" stroke="#000" stroke-width="1"/><rect x="163.5" y="418.3" width="12" height="12" fill="none" stroke="#e69f00" stroke-width="1.1"/><rect x="97.2" y="468.0" width="12.7" height="12.7" fill="#f0e442"/><rect x="163.1" y="468.0" width="12.7" height="12.7" fill="#f0e442"/><rect x="701.9" y="467.8" width="12.7" height="12.7" fill="#f0e442"/><rect x="806.0" y="467.9" width="12.7" height="12.7" fill="#f0e442"/><circle cx="95.5" cy="464.5" r="4.9" fill="none" stroke="#0072b2" stroke-width="1.25"/><path d="M95.5 458.2 v2 M95.5 468.8 v2 M89.2 464.5 h2 M99.8 464.5 h2" stroke="#0072b2" stroke-width="1"/><circle cx="128.6" cy="466.0" r="4.9" fill="none" stroke="#0072b2" stroke-width="1.25"/><path d="M128.6 459.7 v2 M128.6 470.3 v2 M122.3 466.0 h2 M132.9 466.0 h2" stroke="#0072b2" stroke-width="1"/><circle cx="170.3" cy="465.3" r="4.9" fill="none" stroke="#0072b2" stroke-width="1.25"/><path d="M170.3 459.0 v2 M170.3 469.6 v2 M164.0 465.3 h2 M174.6 465.3 h2" stroke="#0072b2" stroke-width="1"/><circle cx="203.3" cy="467.5" r="4.9" fill="none" stroke="#0072b2" stroke-width="1.25"/><path d="M203.3 461.2 v2 M203.3 471.8 v2 M197.0 467.5 h2 M207.6 467.5 h2" stroke="#0072b2" stroke-width="1"/><circle cx="207.3" cy="466.0" r="4.9" fill="none" stroke="#0072b2" stroke-width="1.25"/><path d="M207.3 459.7 v2 M207.3 470.3 v2 M201.0 466.0 h2 M211.6 466.0 h2" stroke="#0072b2" stroke-width="1"/><circle cx="240.0" cy="468.0" r="4.9" fill="none" stroke="#0072b2" stroke-width="1.25"/><path d="M240.0 461.7 v2 M240.0 472.3 v2 M233.7 468.0 h2 M244.3 468.0 h2" stroke="#0072b2" stroke-width="1"/><circle cx="245.0" cy="465.7" r="4.9" fill="none" stroke="#0072b2" stroke-width="1.25"/><path d="M245.0 459.4 v2 M245.0 470.0 v2 M238.7 465.7 h2 M249.3 465.7 h2" stroke="#0072b2" stroke-width="1"/><circle cx="277.3" cy="468.0" r="4.9" fill="none" stroke="#0072b2" stroke-width="1.25"/><path d="M277.3 461.7 v2 M277.3 472.3 v2 M271.0 468.0 h2 M281.6 468.0 h2" stroke="#0072b2" stroke-width="1"/><circle cx="282.7" cy="465.3" r="4.9" fill="none" stroke="#0072b2" stroke-width="1.25"/><path d="M282.7 459.0 v2 M282.7 469.6 v2 M276.4 465.3 h2 M287.0 465.3 h2" stroke="#0072b2" stroke-width="1"/><circle cx="315.3" cy="465.3" r="4.9" fill="none" stroke="#0072b2" stroke-width="1.25"/><path d="M315.3 459.0 v2 M315.3 469.6 v2 M309.0 465.3 h2 M319.6 465.3 h2" stroke="#0072b2" stroke-width="1"/><circle cx="320.0" cy="467.3" r="4.9" fill="none" stroke="#0072b2" stroke-width="1.25"/><path d="M320.0 461.0 v2 M320.0 471.6 v2 M313.7 467.3 h2 M324.3 467.3 h2" stroke="#0072b2" stroke-width="1"/><circle cx="352.4" cy="467.0" r="4.9" fill="none" stroke="#0072b2" stroke-width="1.25"/><path d="M352.4 460.7 v2 M352.4 471.3 v2 M346.1 467.0 h2 M356.7 467.0 h2" stroke="#0072b2" stroke-width="1"/><circle cx="356.7" cy="465.5" r="4.9" fill="none" stroke="#0072b2" stroke-width="1.25"/><path d="M356.7 459.2 v2 M356.7 469.8 v2 M350.4 465.5 h2 M361.0 465.5 h2" stroke="#0072b2" stroke-width="1"/><circle cx="389.5" cy="303.5" r="4.9" fill="none" stroke="#0072b2" stroke-width="1.25"/><path d="M389.5 297.2 v2 M389.5 307.8 v2 M383.2 303.5 h2 M393.8 303.5 h2" stroke="#0072b2" stroke-width="1"/><circle cx="394.3" cy="467.5" r="4.9" fill="none" stroke="#0072b2" stroke-width="1.25"/><path d="M394.3 461.2 v2 M394.3 471.8 v2 M388.0 467.5 h2 M398.6 467.5 h2" stroke="#0072b2" stroke-width="1"/><circle cx="427.3" cy="465.5" r="4.9" fill="none" stroke="#0072b2" stroke-width="1.25"/><path d="M427.3 459.2 v2 M427.3 469.8 v2 M421.0 465.5 h2 M431.6 465.5 h2" stroke="#0072b2" stroke-width="1"/><circle cx="431.2" cy="447.5" r="4.9" fill="none" stroke="#0072b2" stroke-width="1.25"/><path d="M431.2 441.2 v2 M431.2 451.8 v2 M424.9 447.5 h2 M435.5 447.5 h2" stroke="#0072b2" stroke-width="1"/><circle cx="464.1" cy="465.5" r="4.9" fill="none" stroke="#0072b2" stroke-width="1.25"/><path d="M464.1 459.2 v2 M464.1 469.8 v2 M457.8 465.5 h2 M468.4 465.5 h2" stroke="#0072b2" stroke-width="1"/><circle cx="468.4" cy="464.5" r="4.9" fill="none" stroke="#0072b2" stroke-width="1.25"/><path d="M468.4 458.2 v2 M468.4 468.8 v2 M462.1 464.5 h2 M472.7 464.5 h2" stroke="#0072b2" stroke-width="1"/><circle cx="501.4" cy="467.0" r="4.9" fill="none" stroke="#0072b2" stroke-width="1.25"/><path d="M501.4 460.7 v2 M501.4 471.3 v2 M495.1 467.0 h2 M505.7 467.0 h2" stroke="#0072b2" stroke-width="1"/><circle cx="505.3" cy="467.0" r="4.9" fill="none" stroke="#0072b2" stroke-width="1.25"/><path d="M505.3 460.7 v2 M505.3 471.3 v2 M499.0 467.0 h2 M509.6 467.0 h2" stroke="#0072b2" stroke-width="1"/><circle cx="538.0" cy="465.0" r="4.9" fill="none" stroke="#0072b2" stroke-width="1.25"/><path d="M538.0 458.7 v2 M538.0 469.3 v2 M531.7 465.0 h2 M542.3 465.0 h2" stroke="#0072b2" stroke-width="1"/><circle cx="543.3" cy="466.0" r="4.9" fill="none" stroke="#0072b2" stroke-width="1.25"/><path d="M543.3 459.7 v2 M543.3 470.3 v2 M537.0 466.0 h2 M547.6 466.0 h2" stroke="#0072b2" stroke-width="1"/><circle cx="576.3" cy="467.5" r="4.9" fill="none" stroke="#0072b2" stroke-width="1.25"/><path d="M576.3 461.2 v2 M576.3 471.8 v2 M570.0 467.5 h2 M580.6 467.5 h2" stroke="#0072b2" stroke-width="1"/><circle cx="580.2" cy="466.0" r="4.9" fill="none" stroke="#0072b2" stroke-width="1.25"/><path d="M580.2 459.7 v2 M580.2 470.3 v2 M573.9 466.0 h2 M584.5 466.0 h2" stroke="#0072b2" stroke-width="1"/><circle cx="613.1" cy="461.5" r="4.9" fill="none" stroke="#0072b2" stroke-width="1.25"/><path d="M613.1 455.2 v2 M613.1 465.8 v2 M606.8 461.5 h2 M617.4 461.5 h2" stroke="#0072b2" stroke-width="1"/><circle cx="617.5" cy="468.0" r="4.9" fill="none" stroke="#0072b2" stroke-width="1.25"/><path d="M617.5 461.7 v2 M617.5 472.3 v2 M611.2 468.0 h2 M621.8 468.0 h2" stroke="#0072b2" stroke-width="1"/><circle cx="650.2" cy="463.3" r="4.9" fill="none" stroke="#0072b2" stroke-width="1.25"/><path d="M650.2 457.0 v2 M650.2 467.6 v2 M643.9 463.3 h2 M654.5 463.3 h2" stroke="#0072b2" stroke-width="1"/><circle cx="655.5" cy="465.5" r="4.9" fill="none" stroke="#0072b2" stroke-width="1.25"/><path d="M655.5 459.2 v2 M655.5 469.8 v2 M649.2 465.5 h2 M659.8 465.5 h2" stroke="#0072b2" stroke-width="1"/><circle cx="688.5" cy="303.3" r="4.9" fill="none" stroke="#0072b2" stroke-width="1.25"/><path d="M688.5 297.0 v2 M688.5 307.6 v2 M682.2 303.3 h2 M692.8 303.3 h2" stroke="#0072b2" stroke-width="1"/><circle cx="692.3" cy="459.5" r="4.9" fill="none" stroke="#0072b2" stroke-width="1.25"/><path d="M692.3 453.2 v2 M692.3 463.8 v2 M686.0 459.5 h2 M696.6 459.5 h2" stroke="#0072b2" stroke-width="1"/><circle cx="725.1" cy="430.3" r="4.9" fill="none" stroke="#0072b2" stroke-width="1.25"/><path d="M725.1 424.0 v2 M725.1 434.6 v2 M718.8 430.3 h2 M729.4 430.3 h2" stroke="#0072b2" stroke-width="1"/><circle cx="729.7" cy="425.4" r="4.9" fill="none" stroke="#0072b2" stroke-width="1.25"/><path d="M729.7 419.1 v2 M729.7 429.7 v2 M723.4 425.4 h2 M734.0 425.4 h2" stroke="#0072b2" stroke-width="1"/><circle cx="762.2" cy="412.4" r="4.9" fill="none" stroke="#0072b2" stroke-width="1.25"/><path d="M762.2 406.1 v2 M762.2 416.7 v2 M755.9 412.4 h2 M766.5 412.4 h2" stroke="#0072b2" stroke-width="1"/><circle cx="766.5" cy="303.3" r="4.9" fill="none" stroke="#0072b2" stroke-width="1.25"/><path d="M766.5 297.0 v2 M766.5 307.6 v2 M760.2 303.3 h2 M770.8 303.3 h2" stroke="#0072b2" stroke-width="1"/><circle cx="799.0" cy="422.3" r="4.9" fill="none" stroke="#0072b2" stroke-width="1.25"/><path d="M799.0 416.0 v2 M799.0 426.6 v2 M792.7 422.3 h2 M803.3 422.3 h2" stroke="#0072b2" stroke-width="1"/><circle cx="804.2" cy="425.4" r="4.9" fill="none" stroke="#0072b2" stroke-width="1.25"/><path d="M804.2 419.1 v2 M804.2 429.7 v2 M797.9 425.4 h2 M808.5 425.4 h2" stroke="#0072b2" stroke-width="1"/><circle cx="837.3" cy="418.4" r="4.9" fill="none" stroke="#0072b2" stroke-width="1.25"/><path d="M837.3 412.1 v2 M837.3 422.7 v2 M831.0 418.4 h2 M841.6 418.4 h2" stroke="#0072b2" stroke-width="1"/><circle cx="841.2" cy="464.4" r="4.9" fill="none" stroke="#0072b2" stroke-width="1.25"/><path d="M841.2 458.1 v2 M841.2 468.7 v2 M834.9 464.4 h2 M845.5 464.4 h2" stroke="#0072b2" stroke-width="1"/><circle cx="874.3" cy="457.6" r="4.9" fill="none" stroke="#0072b2" stroke-width="1.25"/><path d="M874.3 451.3 v2 M874.3 461.9 v2 M868.0 457.6 h2 M878.6 457.6 h2" stroke="#0072b2" stroke-width="1"/><circle cx="878.3" cy="467.3" r="4.9" fill="none" stroke="#0072b2" stroke-width="1.25"/><path d="M878.3 461.0 v2 M878.3 471.6 v2 M872.0 467.3 h2 M882.6 467.3 h2" stroke="#0072b2" stroke-width="1"/><circle cx="911.3" cy="463.4" r="4.9" fill="none" stroke="#0072b2" stroke-width="1.25"/><path d="M911.3 457.1 v2 M911.3 467.7 v2 M905.0 463.4 h2 M915.6 463.4 h2" stroke="#0072b2" stroke-width="1"/><circle cx="916.4" cy="466.2" r="4.9" fill="none" stroke="#0072b2" stroke-width="1.25"/><path d="M916.4 459.9 v2 M916.4 470.5 v2 M910.1 466.2 h2 M920.7 466.2 h2" stroke="#0072b2" stroke-width="1"/><circle cx="949.8" cy="466.2" r="4.9" fill="none" stroke="#0072b2" stroke-width="1.25"/><path d="M949.8 459.9 v2 M949.8 470.5 v2 M943.5 466.2 h2 M954.1 466.2 h2" stroke="#0072b2" stroke-width="1"/><circle cx="953.5" cy="467.3" r="4.9" fill="none" stroke="#0072b2" stroke-width="1.25"/><path d="M953.5 461.0 v2 M953.5 471.6 v2 M947.2 467.3 h2 M957.8 467.3 h2" stroke="#0072b2" stroke-width="1"/><circle cx="986.4" cy="463.4" r="4.9" fill="none" stroke="#0072b2" stroke-width="1.25"/><path d="M986.4 457.1 v2 M986.4 467.7 v2 M980.1 463.4 h2 M990.7 463.4 h2" stroke="#0072b2" stroke-width="1"/><circle cx="95.5" cy="514.5" r="5.5" fill="#e51e10"/><path d="M95.5 508.0 v2 M95.5 519.0 v2 M89.0 514.5 h2 M100.0 514.5 h2" stroke="#e51e10" stroke-width="1"/><circle cx="128.5" cy="515.0" r="5.5" fill="#e51e10"/><path d="M128.5 508.5 v2 M128.5 519.5 v2 M122.0 515.0 h2 M133.0 515.0 h2" stroke="#e51e10" stroke-width="1"/><circle cx="170.0" cy="514.5" r="5.5" fill="#e51e10"/><path d="M170.0 508.0 v2 M170.0 519.0 v2 M163.5 514.5 h2 M174.5 514.5 h2" stroke="#e51e10" stroke-width="1"/><circle cx="203.0" cy="515.0" r="5.5" fill="#e51e10"/><path d="M203.0 508.5 v2 M203.0 519.5 v2 M196.5 515.0 h2 M207.5 515.0 h2" stroke="#e51e10" stroke-width="1"/><circle cx="208.0" cy="514.5" r="5.5" fill="#e51e10"/><path d="M208.0 508.0 v2 M208.0 519.0 v2 M201.5 514.5 h2 M212.5 514.5 h2" stroke="#e51e10" stroke-width="1"/><circle cx="240.0" cy="515.0" r="5.5" fill="#e51e10"/><path d="M240.0 508.5 v2 M240.0 519.5 v2 M233.5 515.0 h2 M244.5 515.0 h2" stroke="#e51e10" stroke-width="1"/><circle cx="245.0" cy="515.0" r="5.5" fill="#e51e10"/><path d="M245.0 508.5 v2 M245.0 519.5 v2 M238.5 515.0 h2 M249.5 515.0 h2" stroke="#e51e10" stroke-width="1"/><circle cx="277.0" cy="514.0" r="5.5" fill="#e51e10"/><path d="M277.0 507.5 v2 M277.0 518.5 v2 M270.5 514.0 h2 M281.5 514.0 h2" stroke="#e51e10" stroke-width="1"/><circle cx="282.0" cy="514.0" r="5.5" fill="#e51e10"/><path d="M282.0 507.5 v2 M282.0 518.5 v2 M275.5 514.0 h2 M286.5 514.0 h2" stroke="#e51e10" stroke-width="1"/><circle cx="315.0" cy="514.0" r="5.5" fill="#e51e10"/><path d="M315.0 507.5 v2 M315.0 518.5 v2 M308.5 514.0 h2 M319.5 514.0 h2" stroke="#e51e10" stroke-width="1"/><circle cx="320.0" cy="514.0" r="5.5" fill="#e51e10"/><path d="M320.0 507.5 v2 M320.0 518.5 v2 M313.5 514.0 h2 M324.5 514.0 h2" stroke="#e51e10" stroke-width="1"/><circle cx="352.0" cy="514.0" r="5.5" fill="#e51e10"/><path d="M352.0 507.5 v2 M352.0 518.5 v2 M345.5 514.0 h2 M356.5 514.0 h2" stroke="#e51e10" stroke-width="1"/><circle cx="357.0" cy="514.0" r="5.5" fill="#e51e10"/><path d="M357.0 507.5 v2 M357.0 518.5 v2 M350.5 514.0 h2 M361.5 514.0 h2" stroke="#e51e10" stroke-width="1"/><circle cx="389.5" cy="308.5" r="5.5" fill="#e51e10"/><path d="M389.5 302.0 v2 M389.5 313.0 v2 M383.0 308.5 h2 M394.0 308.5 h2" stroke="#e51e10" stroke-width="1"/><circle cx="394.3" cy="515.0" r="5.5" fill="#e51e10"/><path d="M394.3 508.5 v2 M394.3 519.5 v2 M387.8 515.0 h2 M398.8 515.0 h2" stroke="#e51e10" stroke-width="1"/><circle cx="427.3" cy="514.0" r="5.5" fill="#e51e10"/><path d="M427.3 507.5 v2 M427.3 518.5 v2 M420.8 514.0 h2 M431.8 514.0 h2" stroke="#e51e10" stroke-width="1"/><circle cx="431.2" cy="514.0" r="5.5" fill="#e51e10"/><path d="M431.2 507.5 v2 M431.2 518.5 v2 M424.7 514.0 h2 M435.7 514.0 h2" stroke="#e51e10" stroke-width="1"/><circle cx="464.0" cy="514.0" r="5.5" fill="#e51e10"/><path d="M464.0 507.5 v2 M464.0 518.5 v2 M457.5 514.0 h2 M468.5 514.0 h2" stroke="#e51e10" stroke-width="1"/><circle cx="468.4" cy="514.0" r="5.5" fill="#e51e10"/><path d="M468.4 507.5 v2 M468.4 518.5 v2 M461.9 514.0 h2 M472.9 514.0 h2" stroke="#e51e10" stroke-width="1"/><circle cx="501.4" cy="514.0" r="5.5" fill="#e51e10"/><path d="M501.4 507.5 v2 M501.4 518.5 v2 M494.9 514.0 h2 M505.9 514.0 h2" stroke="#e51e10" stroke-width="1"/><circle cx="505.3" cy="514.0" r="5.5" fill="#e51e10"/><path d="M505.3 507.5 v2 M505.3 518.5 v2 M498.8 514.0 h2 M509.8 514.0 h2" stroke="#e51e10" stroke-width="1"/><circle cx="538.0" cy="514.0" r="5.5" fill="#e51e10"/><path d="M538.0 507.5 v2 M538.0 518.5 v2 M531.5 514.0 h2 M542.5 514.0 h2" stroke="#e51e10" stroke-width="1"/><circle cx="543.3" cy="514.0" r="5.5" fill="#e51e10"/><path d="M543.3 507.5 v2 M543.3 518.5 v2 M536.8 514.0 h2 M547.8 514.0 h2" stroke="#e51e10" stroke-width="1"/><circle cx="576.3" cy="515.0" r="5.5" fill="#e51e10"/><path d="M576.3 508.5 v2 M576.3 519.5 v2 M569.8 515.0 h2 M580.8 515.0 h2" stroke="#e51e10" stroke-width="1"/><circle cx="580.2" cy="515.0" r="5.5" fill="#e51e10"/><path d="M580.2 508.5 v2 M580.2 519.5 v2 M573.7 515.0 h2 M584.7 515.0 h2" stroke="#e51e10" stroke-width="1"/><circle cx="613.1" cy="514.0" r="5.5" fill="#e51e10"/><path d="M613.1 507.5 v2 M613.1 518.5 v2 M606.6 514.0 h2 M617.6 514.0 h2" stroke="#e51e10" stroke-width="1"/><circle cx="617.5" cy="514.0" r="5.5" fill="#e51e10"/><path d="M617.5 507.5 v2 M617.5 518.5 v2 M611.0 514.0 h2 M622.0 514.0 h2" stroke="#e51e10" stroke-width="1"/><circle cx="650.5" cy="515.0" r="5.5" fill="#e51e10"/><path d="M650.5 508.5 v2 M650.5 519.5 v2 M644.0 515.0 h2 M655.0 515.0 h2" stroke="#e51e10" stroke-width="1"/><circle cx="655.8" cy="515.0" r="5.5" fill="#e51e10"/><path d="M655.8 508.5 v2 M655.8 519.5 v2 M649.3 515.0 h2 M660.3 515.0 h2" stroke="#e51e10" stroke-width="1"/><circle cx="688.5" cy="308.2" r="5.5" fill="#e51e10"/><path d="M688.5 301.7 v2 M688.5 312.7 v2 M682.0 308.2 h2 M693.0 308.2 h2" stroke="#e51e10" stroke-width="1"/><circle cx="692.3" cy="514.3" r="5.5" fill="#e51e10"/><path d="M692.3 507.8 v2 M692.3 518.8 v2 M685.8 514.3 h2 M696.8 514.3 h2" stroke="#e51e10" stroke-width="1"/><circle cx="725.0" cy="514.0" r="5.5" fill="#e51e10"/><path d="M725.0 507.5 v2 M725.0 518.5 v2 M718.5 514.0 h2 M729.5 514.0 h2" stroke="#e51e10" stroke-width="1"/><circle cx="730.0" cy="514.0" r="5.5" fill="#e51e10"/><path d="M730.0 507.5 v2 M730.0 518.5 v2 M723.5 514.0 h2 M734.5 514.0 h2" stroke="#e51e10" stroke-width="1"/><circle cx="762.2" cy="513.0" r="5.5" fill="#e51e10"/><path d="M762.2 506.5 v2 M762.2 517.5 v2 M755.7 513.0 h2 M766.7 513.0 h2" stroke="#e51e10" stroke-width="1"/><circle cx="766.5" cy="306.2" r="5.5" fill="#e51e10"/><path d="M766.5 299.7 v2 M766.5 310.7 v2 M760.0 306.2 h2 M771.0 306.2 h2" stroke="#e51e10" stroke-width="1"/><circle cx="799.0" cy="515.0" r="5.5" fill="#e51e10"/><path d="M799.0 508.5 v2 M799.0 519.5 v2 M792.5 515.0 h2 M803.5 515.0 h2" stroke="#e51e10" stroke-width="1"/><circle cx="804.0" cy="515.0" r="5.5" fill="#e51e10"/><path d="M804.0 508.5 v2 M804.0 519.5 v2 M797.5 515.0 h2 M808.5 515.0 h2" stroke="#e51e10" stroke-width="1"/><circle cx="837.0" cy="514.0" r="5.5" fill="#e51e10"/><path d="M837.0 507.5 v2 M837.0 518.5 v2 M830.5 514.0 h2 M841.5 514.0 h2" stroke="#e51e10" stroke-width="1"/><circle cx="841.0" cy="514.0" r="5.5" fill="#e51e10"/><path d="M841.0 507.5 v2 M841.0 518.5 v2 M834.5 514.0 h2 M845.5 514.0 h2" stroke="#e51e10" stroke-width="1"/><circle cx="874.0" cy="515.0" r="5.5" fill="#e51e10"/><path d="M874.0 508.5 v2 M874.0 519.5 v2 M867.5 515.0 h2 M878.5 515.0 h2" stroke="#e51e10" stroke-width="1"/><circle cx="878.0" cy="515.0" r="5.5" fill="#e51e10"/><path d="M878.0 508.5 v2 M878.0 519.5 v2 M871.5 515.0 h2 M882.5 515.0 h2" stroke="#e51e10" stroke-width="1"/><circle cx="911.0" cy="514.5" r="5.5" fill="#e51e10"/><path d="M911.0 508.0 v2 M911.0 519.0 v2 M904.5 514.5 h2 M915.5 514.5 h2" stroke="#e51e10" stroke-width="1"/><circle cx="916.0" cy="514.5" r="5.5" fill="#e51e10"/><path d="M916.0 508.0 v2 M916.0 519.0 v2 M909.5 514.5 h2 M920.5 514.5 h2" stroke="#e51e10" stroke-width="1"/><circle cx="950.0" cy="515.0" r="5.5" fill="#e51e10"/><path d="M950.0 508.5 v2 M950.0 519.5 v2 M943.5 515.0 h2 M954.5 515.0 h2" stroke="#e51e10" stroke-width="1"/><circle cx="953.5" cy="515.0" r="5.5" fill="#e51e10"/><path d="M953.5 508.5 v2 M953.5 519.5 v2 M947.0 515.0 h2 M958.0 515.0 h2" stroke="#e51e10" stroke-width="1"/><circle cx="986.5" cy="514.4" r="5.5" fill="#e51e10"/><path d="M986.5 507.9 v2 M986.5 518.9 v2 M980.0 514.4 h2 M991.0 514.4 h2" stroke="#e51e10" stroke-width="1"/><path d="M169.5 444.4 L161.3 456.5 L177.7 456.5 Z" fill="none" stroke="#000" stroke-width="1"/><path d="M163.0 413.3 h13 M169.5 406.8 v13" stroke="#9400d3" stroke-width="1.1"/><path d="M989.5 74 V523 M94.5 74 V523" stroke="#000" stroke-width="1"/><text x="80.8" y="526.1" text-anchor="end" font-family="Liberation Sans" font-size="16" >0</text><text x="80.8" y="417.1" text-anchor="end" font-family="Liberation Sans" font-size="16" >500</text><text x="80.8" y="307.1" text-anchor="end" font-family="Liberation Sans" font-size="16" >1000</text><text x="80.8" y="198.1" text-anchor="end" font-family="Liberation Sans" font-size="16" >1500</text><text x="80.8" y="89.1" text-anchor="end" font-family="Liberation Sans" font-size="16" >2000</text><text x="92.5" y="544.7" text-anchor="middle" font-family="Liberation Sans" font-size="16" >00:00</text><text x="167.1" y="544.7" text-anchor="middle" font-family="Liberation Sans" font-size="16" >02:00</text><text x="241.7" y="544.7" text-anchor="middle" font-family="Liberation Sans" font-size="16" >04:00</text><text x="316.2" y="544.7" text-anchor="middle" font-family="Liberation Sans" font-size="16" >06:00</text><text x="390.8" y="544.7" text-anchor="middle" font-family="Liberation Sans" font-size="16" >08:00</text><text x="465.4" y="544.7" text-anchor="middle" font-family="Liberation Sans" font-size="16" >10:00</text><text x="540.0" y="544.7" text-anchor="middle" font-family="Liberation Sans" font-size="16" >12:00</text><text x="614.6" y="544.7" text-anchor="middle" font-family="Liberation Sans" font-size="16" >14:00</text><text x="689.2" y="544.7" text-anchor="middle" font-family="Liberation Sans" font-size="16" >16:00</text><text x="763.8" y="544.7" text-anchor="middle" font-family="Liberation Sans" font-size="16" >18:00</text><text x="838.3" y="544.7" text-anchor="middle" font-family="Liberation Sans" font-size="16" >20:00</text><text x="912.9" y="544.7" text-anchor="middle" font-family="Liberation Sans" font-size="16" >22:00</text><text x="987.5" y="544.7" text-anchor="middle" font-family="Liberation Sans" font-size="16" >00:00</text><text transform="translate(17.3,298.5) rotate(-90)" text-anchor="middle" font-family="Liberation Sans" font-size="16">msec</text><line x1="923" y1="90.5" x2="970" y2="90.5" stroke="#9400d3" stroke-width="1"/><line x1="923" y1="109.4" x2="970" y2="109.4" stroke="#009e73" stroke-width="1"/><line x1="923" y1="128.4" x2="970" y2="128.4" stroke="#56b4e9" stroke-width="1"/><rect x="940.3" y="141.3" width="12" height="12" fill="none" stroke="#e69f00" stroke-width="1.1"/><rect x="939.9" y="159.9" width="12.7" height="12.7" fill="#f0e442"/><circle cx="946.3" cy="185.2" r="4.9" fill="none" stroke="#0072b2" stroke-width="1.25"/><path d="M946.3 178.9 v2 M946.3 189.5 v2 M940.0 185.2 h2 M950.6 185.2 h2" stroke="#0072b2" stroke-width="1"/><circle cx="946.3" cy="204.1" r="5.5" fill="#e51e10"/><path d="M946.3 197.6 v2 M946.3 208.6 v2 M939.8 204.1 h2 M950.8 204.1 h2" stroke="#e51e10" stroke-width="1"/><path d="M946.3 215.3 L938.1 227.5 L954.5 227.5 Z" fill="none" stroke="#000" stroke-width="1"/><path d="M939.8 242.0 h13 M946.3 235.5 v13" stroke="#9400d3" stroke-width="1.1"/></svg></body></html>
